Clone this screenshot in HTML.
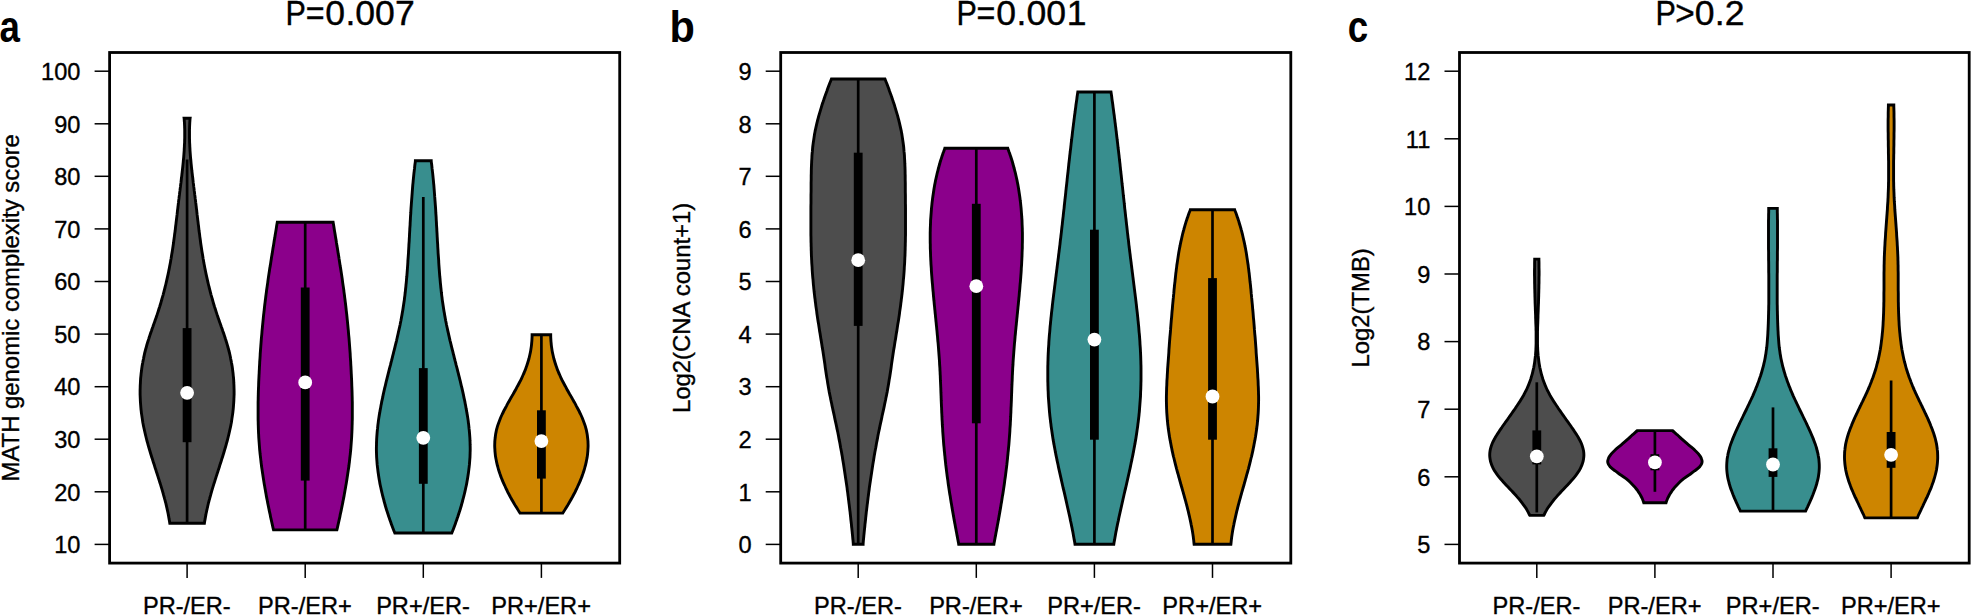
<!DOCTYPE html>
<html><head><meta charset="utf-8"><title>Violin plots</title>
<style>html,body{margin:0;padding:0;background:#fff}svg{display:block}</style></head>
<body>
<svg width="1971" height="615" viewBox="0 0 1971 615">
<rect width="1971" height="615" fill="#fff"/>
<g>
<path d="M190.1 118.2C190.0 118.9 189.9 120.9 189.8 122.2C189.7 123.5 189.7 124.9 189.6 126.2C189.6 127.6 189.5 128.9 189.5 130.2C189.5 131.6 189.5 132.9 189.5 134.2C189.5 135.6 189.5 136.9 189.5 138.2C189.6 139.6 189.6 140.9 189.6 142.3C189.7 143.6 189.8 144.9 189.8 146.3C189.9 147.6 190.0 148.9 190.0 150.3C190.1 151.6 190.2 153.0 190.3 154.3C190.4 155.6 190.5 157.0 190.6 158.3C190.8 159.6 190.9 161.0 191.0 162.3C191.1 163.6 191.3 165.0 191.4 166.3C191.5 167.7 191.7 169.0 191.8 170.3C192.0 171.7 192.1 173.0 192.3 174.3C192.4 175.7 192.6 177.0 192.8 178.3C192.9 179.7 193.1 181.0 193.2 182.4C193.4 183.7 193.6 185.0 193.7 186.4C193.9 187.7 194.1 189.0 194.2 190.4C194.4 191.7 194.6 193.1 194.7 194.4C194.9 195.7 195.1 197.1 195.2 198.4C195.4 199.7 195.6 201.1 195.7 202.4C195.9 203.7 196.0 205.1 196.2 206.4C196.3 207.8 196.5 209.1 196.7 210.4C196.8 211.8 197.0 213.1 197.1 214.4C197.3 215.8 197.4 217.1 197.6 218.4C197.7 219.8 197.9 221.1 198.1 222.5C198.2 223.8 198.4 225.1 198.6 226.5C198.7 227.8 198.9 229.1 199.0 230.5C199.2 231.8 199.4 233.2 199.6 234.5C199.7 235.8 199.9 237.2 200.1 238.5C200.3 239.8 200.5 241.2 200.6 242.5C200.8 243.8 201.0 245.2 201.2 246.5C201.4 247.9 201.6 249.2 201.8 250.5C202.0 251.9 202.2 253.2 202.5 254.5C202.7 255.9 202.9 257.2 203.1 258.5C203.4 259.9 203.6 261.2 203.8 262.6C204.1 263.9 204.3 265.2 204.6 266.6C204.8 267.9 205.1 269.2 205.4 270.6C205.6 271.9 205.9 273.2 206.2 274.6C206.5 275.9 206.8 277.3 207.1 278.6C207.4 279.9 207.7 281.3 208.0 282.6C208.3 283.9 208.6 285.3 209.0 286.6C209.3 288.0 209.6 289.3 210.0 290.6C210.3 292.0 210.7 293.3 211.0 294.6C211.4 296.0 211.8 297.3 212.2 298.6C212.5 300.0 212.9 301.3 213.3 302.7C213.7 304.0 214.1 305.3 214.5 306.7C215.0 308.0 215.4 309.3 215.8 310.7C216.2 312.0 216.7 313.3 217.1 314.7C217.6 316.0 218.0 317.4 218.5 318.7C219.0 320.0 219.4 321.4 219.9 322.7C220.4 324.0 220.9 325.4 221.3 326.7C221.8 328.1 222.3 329.4 222.7 330.7C223.2 332.1 223.6 333.4 224.1 334.7C224.5 336.1 225.0 337.4 225.4 338.7C225.9 340.1 226.3 341.4 226.7 342.8C227.1 344.1 227.5 345.4 227.8 346.8C228.2 348.1 228.6 349.4 228.9 350.8C229.3 352.1 229.6 353.4 229.9 354.8C230.2 356.1 230.5 357.5 230.7 358.8C231.0 360.1 231.3 361.5 231.5 362.8C231.8 364.1 232.0 365.5 232.2 366.8C232.4 368.2 232.6 369.5 232.7 370.8C232.9 372.2 233.1 373.5 233.2 374.8C233.3 376.2 233.5 377.5 233.6 378.8C233.7 380.2 233.8 381.5 233.8 382.9C233.9 384.2 234.0 385.5 234.0 386.9C234.0 388.2 234.1 389.5 234.1 390.9C234.1 392.2 234.1 393.5 234.1 394.9C234.0 396.2 234.0 397.6 233.9 398.9C233.9 400.2 233.8 401.6 233.7 402.9C233.6 404.2 233.5 405.6 233.4 406.9C233.3 408.2 233.2 409.6 233.0 410.9C232.9 412.3 232.7 413.6 232.5 414.9C232.3 416.3 232.1 417.6 231.9 418.9C231.7 420.3 231.5 421.6 231.3 423.0C231.0 424.3 230.8 425.6 230.5 427.0C230.2 428.3 229.9 429.6 229.6 431.0C229.3 432.3 229.0 433.6 228.7 435.0C228.4 436.3 228.0 437.7 227.7 439.0C227.4 440.3 227.0 441.7 226.6 443.0C226.3 444.3 225.9 445.7 225.5 447.0C225.1 448.3 224.7 449.7 224.3 451.0C223.9 452.4 223.5 453.7 223.1 455.0C222.7 456.4 222.3 457.7 221.8 459.0C221.4 460.4 221.0 461.7 220.6 463.1C220.1 464.4 219.7 465.7 219.3 467.1C218.9 468.4 218.4 469.7 218.0 471.1C217.6 472.4 217.1 473.7 216.7 475.1C216.3 476.4 215.8 477.8 215.4 479.1C215.0 480.4 214.6 481.8 214.2 483.1C213.7 484.4 213.3 485.8 212.9 487.1C212.5 488.4 212.1 489.8 211.7 491.1C211.3 492.5 210.9 493.8 210.6 495.1C210.2 496.5 209.8 497.8 209.5 499.1C209.1 500.5 208.8 501.8 208.4 503.2C208.1 504.5 207.8 505.8 207.5 507.2C207.2 508.5 206.9 509.8 206.6 511.2C206.3 512.5 206.0 513.8 205.8 515.2C205.5 516.5 205.3 517.9 205.1 519.2C204.8 520.5 204.5 522.5 204.4 523.2L169.8 523.2C169.7 522.5 169.4 520.5 169.1 519.2C168.9 517.9 168.7 516.5 168.4 515.2C168.2 513.8 167.9 512.5 167.6 511.2C167.3 509.8 167.0 508.5 166.7 507.2C166.4 505.8 166.1 504.5 165.8 503.2C165.4 501.8 165.1 500.5 164.7 499.1C164.4 497.8 164.0 496.5 163.6 495.1C163.3 493.8 162.9 492.5 162.5 491.1C162.1 489.8 161.7 488.4 161.3 487.1C160.9 485.8 160.5 484.4 160.0 483.1C159.6 481.8 159.2 480.4 158.8 479.1C158.4 477.8 157.9 476.4 157.5 475.1C157.1 473.7 156.6 472.4 156.2 471.1C155.8 469.7 155.3 468.4 154.9 467.1C154.5 465.7 154.1 464.4 153.6 463.1C153.2 461.7 152.8 460.4 152.4 459.0C151.9 457.7 151.5 456.4 151.1 455.0C150.7 453.7 150.3 452.4 149.9 451.0C149.5 449.7 149.1 448.3 148.7 447.0C148.3 445.7 147.9 444.3 147.6 443.0C147.2 441.7 146.8 440.3 146.5 439.0C146.2 437.7 145.8 436.3 145.5 435.0C145.2 433.6 144.9 432.3 144.6 431.0C144.3 429.6 144.0 428.3 143.7 427.0C143.4 425.6 143.2 424.3 142.9 423.0C142.7 421.6 142.5 420.3 142.3 418.9C142.1 417.6 141.9 416.3 141.7 414.9C141.5 413.6 141.3 412.3 141.2 410.9C141.0 409.6 140.9 408.2 140.8 406.9C140.7 405.6 140.6 404.2 140.5 402.9C140.4 401.6 140.3 400.2 140.3 398.9C140.2 397.6 140.2 396.2 140.1 394.9C140.1 393.5 140.1 392.2 140.1 390.9C140.1 389.5 140.2 388.2 140.2 386.9C140.2 385.5 140.3 384.2 140.4 382.9C140.4 381.5 140.5 380.2 140.6 378.8C140.7 377.5 140.9 376.2 141.0 374.8C141.1 373.5 141.3 372.2 141.5 370.8C141.6 369.5 141.8 368.2 142.0 366.8C142.2 365.5 142.4 364.1 142.7 362.8C142.9 361.5 143.2 360.1 143.5 358.8C143.7 357.5 144.0 356.1 144.3 354.8C144.6 353.4 144.9 352.1 145.3 350.8C145.6 349.4 146.0 348.1 146.4 346.8C146.7 345.4 147.1 344.1 147.5 342.8C147.9 341.4 148.3 340.1 148.8 338.7C149.2 337.4 149.7 336.1 150.1 334.7C150.6 333.4 151.0 332.1 151.5 330.7C151.9 329.4 152.4 328.1 152.9 326.7C153.3 325.4 153.8 324.0 154.3 322.7C154.8 321.4 155.2 320.0 155.7 318.7C156.2 317.4 156.6 316.0 157.1 314.7C157.5 313.3 158.0 312.0 158.4 310.7C158.8 309.3 159.2 308.0 159.7 306.7C160.1 305.3 160.5 304.0 160.9 302.7C161.3 301.3 161.7 300.0 162.0 298.6C162.4 297.3 162.8 296.0 163.2 294.6C163.5 293.3 163.9 292.0 164.2 290.6C164.6 289.3 164.9 288.0 165.2 286.6C165.6 285.3 165.9 283.9 166.2 282.6C166.5 281.3 166.8 279.9 167.1 278.6C167.4 277.3 167.7 275.9 168.0 274.6C168.3 273.2 168.6 271.9 168.8 270.6C169.1 269.2 169.4 267.9 169.6 266.6C169.9 265.2 170.1 263.9 170.4 262.6C170.6 261.2 170.8 259.9 171.1 258.5C171.3 257.2 171.5 255.9 171.7 254.5C172.0 253.2 172.2 251.9 172.4 250.5C172.6 249.2 172.8 247.9 173.0 246.5C173.2 245.2 173.4 243.8 173.6 242.5C173.7 241.2 173.9 239.8 174.1 238.5C174.3 237.2 174.5 235.8 174.6 234.5C174.8 233.2 175.0 231.8 175.2 230.5C175.3 229.1 175.5 227.8 175.6 226.5C175.8 225.1 176.0 223.8 176.1 222.5C176.3 221.1 176.5 219.8 176.6 218.4C176.8 217.1 176.9 215.8 177.1 214.4C177.2 213.1 177.4 211.8 177.5 210.4C177.7 209.1 177.9 207.8 178.0 206.4C178.2 205.1 178.3 203.7 178.5 202.4C178.6 201.1 178.8 199.7 179.0 198.4C179.1 197.1 179.3 195.7 179.5 194.4C179.6 193.1 179.8 191.7 180.0 190.4C180.1 189.0 180.3 187.7 180.5 186.4C180.6 185.0 180.8 183.7 181.0 182.4C181.1 181.0 181.3 179.7 181.4 178.3C181.6 177.0 181.8 175.7 181.9 174.3C182.1 173.0 182.2 171.7 182.4 170.3C182.5 169.0 182.7 167.7 182.8 166.3C182.9 165.0 183.1 163.6 183.2 162.3C183.3 161.0 183.4 159.6 183.6 158.3C183.7 157.0 183.8 155.6 183.9 154.3C184.0 153.0 184.1 151.6 184.2 150.3C184.2 148.9 184.3 147.6 184.4 146.3C184.4 144.9 184.5 143.6 184.6 142.3C184.6 140.9 184.6 139.6 184.7 138.2C184.7 136.9 184.7 135.6 184.7 134.2C184.7 132.9 184.7 131.6 184.7 130.2C184.7 128.9 184.6 127.6 184.6 126.2C184.5 124.9 184.5 123.5 184.4 122.2C184.3 120.9 184.2 118.9 184.1 118.2Z" fill="#4d4d4d" stroke="#000" stroke-width="2.9" stroke-linejoin="miter"/>
<line x1="187.1" y1="159.5" x2="187.1" y2="523.5" stroke="#000" stroke-width="2.7"/><rect x="182.7" y="328.1" width="8.8" height="114.1" fill="#000"/><circle cx="187.1" cy="392.8" r="6.9" fill="#fff"/>
<path d="M333.1 222.2C333.2 222.9 333.6 224.9 333.8 226.2C334.0 227.5 334.2 228.9 334.4 230.2C334.6 231.5 334.9 232.9 335.1 234.2C335.3 235.5 335.5 236.9 335.7 238.2C336.0 239.5 336.2 240.8 336.4 242.2C336.6 243.5 336.8 244.8 337.0 246.2C337.3 247.5 337.5 248.8 337.7 250.2C337.9 251.5 338.1 252.8 338.3 254.2C338.6 255.5 338.8 256.8 339.0 258.2C339.2 259.5 339.4 260.8 339.6 262.2C339.8 263.5 340.0 264.8 340.2 266.2C340.5 267.5 340.7 268.8 340.9 270.2C341.1 271.5 341.3 272.8 341.5 274.1C341.7 275.5 341.9 276.8 342.1 278.1C342.3 279.5 342.5 280.8 342.6 282.1C342.8 283.5 343.0 284.8 343.2 286.1C343.4 287.5 343.6 288.8 343.8 290.1C343.9 291.5 344.1 292.8 344.3 294.1C344.5 295.5 344.6 296.8 344.8 298.1C345.0 299.5 345.1 300.8 345.3 302.1C345.5 303.5 345.6 304.8 345.8 306.1C345.9 307.5 346.1 308.8 346.2 310.1C346.4 311.4 346.5 312.8 346.7 314.1C346.8 315.4 347.0 316.8 347.1 318.1C347.2 319.4 347.4 320.8 347.5 322.1C347.6 323.4 347.8 324.8 347.9 326.1C348.0 327.4 348.1 328.8 348.3 330.1C348.4 331.4 348.5 332.8 348.6 334.1C348.7 335.4 348.9 336.8 349.0 338.1C349.1 339.4 349.2 340.8 349.3 342.1C349.4 343.4 349.5 344.7 349.6 346.1C349.7 347.4 349.8 348.7 349.9 350.1C350.0 351.4 350.1 352.7 350.2 354.1C350.2 355.4 350.3 356.7 350.4 358.1C350.5 359.4 350.6 360.7 350.7 362.1C350.7 363.4 350.8 364.7 350.9 366.1C351.0 367.4 351.0 368.7 351.1 370.1C351.2 371.4 351.2 372.7 351.3 374.1C351.4 375.4 351.4 376.7 351.5 378.0C351.6 379.4 351.6 380.7 351.7 382.0C351.7 383.4 351.8 384.7 351.8 386.0C351.9 387.4 351.9 388.7 352.0 390.0C352.0 391.4 352.1 392.7 352.1 394.0C352.1 395.4 352.2 396.7 352.2 398.0C352.2 399.4 352.2 400.7 352.3 402.0C352.3 403.4 352.3 404.7 352.3 406.0C352.3 407.4 352.3 408.7 352.3 410.0C352.3 411.3 352.3 412.7 352.3 414.0C352.3 415.3 352.3 416.7 352.3 418.0C352.3 419.3 352.3 420.7 352.2 422.0C352.2 423.3 352.2 424.7 352.1 426.0C352.1 427.3 352.0 428.7 352.0 430.0C351.9 431.3 351.9 432.7 351.8 434.0C351.7 435.3 351.7 436.7 351.6 438.0C351.5 439.3 351.4 440.7 351.3 442.0C351.2 443.3 351.1 444.6 351.0 446.0C350.9 447.3 350.8 448.6 350.7 450.0C350.5 451.3 350.4 452.6 350.3 454.0C350.1 455.3 350.0 456.6 349.8 458.0C349.7 459.3 349.5 460.6 349.4 462.0C349.2 463.3 349.0 464.6 348.9 466.0C348.7 467.3 348.5 468.6 348.3 470.0C348.1 471.3 347.9 472.6 347.7 474.0C347.5 475.3 347.3 476.6 347.1 478.0C346.9 479.3 346.7 480.6 346.5 481.9C346.3 483.3 346.1 484.6 345.8 485.9C345.6 487.3 345.4 488.6 345.1 489.9C344.9 491.3 344.6 492.6 344.4 493.9C344.2 495.3 343.9 496.6 343.7 497.9C343.4 499.3 343.1 500.6 342.9 501.9C342.6 503.3 342.4 504.6 342.1 505.9C341.8 507.3 341.5 508.6 341.3 509.9C341.0 511.3 340.7 512.6 340.4 513.9C340.1 515.2 339.9 516.6 339.6 517.9C339.3 519.2 339.0 520.6 338.7 521.9C338.4 523.2 338.1 524.6 337.8 525.9C337.5 527.2 337.1 529.2 336.9 529.9L273.5 529.9C273.3 529.2 272.9 527.2 272.6 525.9C272.3 524.6 272.0 523.2 271.7 521.9C271.4 520.6 271.1 519.2 270.8 517.9C270.5 516.6 270.3 515.2 270.0 513.9C269.7 512.6 269.4 511.3 269.1 509.9C268.9 508.6 268.6 507.3 268.3 505.9C268.0 504.6 267.8 503.3 267.5 501.9C267.3 500.6 267.0 499.3 266.7 497.9C266.5 496.6 266.2 495.3 266.0 493.9C265.8 492.6 265.5 491.3 265.3 489.9C265.0 488.6 264.8 487.3 264.6 485.9C264.3 484.6 264.1 483.3 263.9 481.9C263.7 480.6 263.5 479.3 263.3 478.0C263.1 476.6 262.9 475.3 262.7 474.0C262.5 472.6 262.3 471.3 262.1 470.0C261.9 468.6 261.7 467.3 261.5 466.0C261.4 464.6 261.2 463.3 261.0 462.0C260.9 460.6 260.7 459.3 260.6 458.0C260.4 456.6 260.3 455.3 260.1 454.0C260.0 452.6 259.9 451.3 259.7 450.0C259.6 448.6 259.5 447.3 259.4 446.0C259.3 444.6 259.2 443.3 259.1 442.0C259.0 440.7 258.9 439.3 258.8 438.0C258.7 436.7 258.7 435.3 258.6 434.0C258.5 432.7 258.5 431.3 258.4 430.0C258.4 428.7 258.3 427.3 258.3 426.0C258.2 424.7 258.2 423.3 258.2 422.0C258.1 420.7 258.1 419.3 258.1 418.0C258.1 416.7 258.1 415.3 258.1 414.0C258.1 412.7 258.1 411.3 258.1 410.0C258.1 408.7 258.1 407.4 258.1 406.0C258.1 404.7 258.1 403.4 258.1 402.0C258.2 400.7 258.2 399.4 258.2 398.0C258.2 396.7 258.3 395.4 258.3 394.0C258.3 392.7 258.4 391.4 258.4 390.0C258.5 388.7 258.5 387.4 258.6 386.0C258.6 384.7 258.7 383.4 258.7 382.0C258.8 380.7 258.8 379.4 258.9 378.0C259.0 376.7 259.0 375.4 259.1 374.1C259.2 372.7 259.2 371.4 259.3 370.1C259.4 368.7 259.4 367.4 259.5 366.1C259.6 364.7 259.7 363.4 259.7 362.1C259.8 360.7 259.9 359.4 260.0 358.1C260.1 356.7 260.2 355.4 260.2 354.1C260.3 352.7 260.4 351.4 260.5 350.1C260.6 348.7 260.7 347.4 260.8 346.1C260.9 344.7 261.0 343.4 261.1 342.1C261.2 340.8 261.3 339.4 261.4 338.1C261.5 336.8 261.7 335.4 261.8 334.1C261.9 332.8 262.0 331.4 262.1 330.1C262.3 328.8 262.4 327.4 262.5 326.1C262.6 324.8 262.8 323.4 262.9 322.1C263.0 320.8 263.2 319.4 263.3 318.1C263.4 316.8 263.6 315.4 263.7 314.1C263.9 312.8 264.0 311.4 264.2 310.1C264.3 308.8 264.5 307.5 264.6 306.1C264.8 304.8 264.9 303.5 265.1 302.1C265.3 300.8 265.4 299.5 265.6 298.1C265.8 296.8 265.9 295.5 266.1 294.1C266.3 292.8 266.5 291.5 266.6 290.1C266.8 288.8 267.0 287.5 267.2 286.1C267.4 284.8 267.6 283.5 267.8 282.1C267.9 280.8 268.1 279.5 268.3 278.1C268.5 276.8 268.7 275.5 268.9 274.1C269.1 272.8 269.3 271.5 269.5 270.2C269.7 268.8 269.9 267.5 270.2 266.2C270.4 264.8 270.6 263.5 270.8 262.2C271.0 260.8 271.2 259.5 271.4 258.2C271.6 256.8 271.8 255.5 272.1 254.2C272.3 252.8 272.5 251.5 272.7 250.2C272.9 248.8 273.1 247.5 273.4 246.2C273.6 244.8 273.8 243.5 274.0 242.2C274.2 240.8 274.4 239.5 274.7 238.2C274.9 236.9 275.1 235.5 275.3 234.2C275.5 232.9 275.8 231.5 276.0 230.2C276.2 228.9 276.4 227.5 276.6 226.2C276.8 224.9 277.2 222.9 277.3 222.2Z" fill="#8b008b" stroke="#000" stroke-width="2.9" stroke-linejoin="miter"/>
<line x1="305.2" y1="221.9" x2="305.2" y2="530.7" stroke="#000" stroke-width="2.7"/><rect x="300.8" y="287.5" width="8.8" height="193.1" fill="#000"/><circle cx="305.2" cy="382.4" r="6.9" fill="#fff"/>
<path d="M431.2 160.7C431.2 161.4 431.5 163.4 431.7 164.7C431.8 166.0 432.0 167.4 432.1 168.7C432.3 170.0 432.4 171.4 432.6 172.7C432.7 174.0 432.9 175.4 433.0 176.7C433.1 178.0 433.3 179.4 433.4 180.7C433.5 182.1 433.6 183.4 433.8 184.7C433.9 186.1 434.0 187.4 434.1 188.7C434.2 190.1 434.3 191.4 434.4 192.7C434.5 194.1 434.6 195.4 434.7 196.7C434.8 198.1 434.9 199.4 435.0 200.7C435.1 202.1 435.2 203.4 435.3 204.7C435.4 206.1 435.5 207.4 435.6 208.7C435.7 210.1 435.8 211.4 435.8 212.7C435.9 214.1 436.0 215.4 436.1 216.7C436.2 218.1 436.2 219.4 436.3 220.7C436.4 222.1 436.5 223.4 436.5 224.8C436.6 226.1 436.7 227.4 436.8 228.8C436.8 230.1 436.9 231.4 437.0 232.8C437.1 234.1 437.1 235.4 437.2 236.8C437.3 238.1 437.4 239.4 437.4 240.8C437.5 242.1 437.6 243.4 437.7 244.8C437.7 246.1 437.8 247.4 437.9 248.8C438.0 250.1 438.1 251.4 438.1 252.8C438.2 254.1 438.3 255.4 438.4 256.8C438.5 258.1 438.6 259.4 438.7 260.8C438.7 262.1 438.8 263.4 438.9 264.8C439.0 266.1 439.1 267.5 439.2 268.8C439.3 270.1 439.4 271.5 439.5 272.8C439.6 274.1 439.7 275.5 439.8 276.8C440.0 278.1 440.1 279.5 440.2 280.8C440.3 282.1 440.4 283.5 440.6 284.8C440.7 286.1 440.8 287.5 441.0 288.8C441.1 290.1 441.3 291.5 441.4 292.8C441.6 294.1 441.7 295.5 441.9 296.8C442.1 298.1 442.2 299.5 442.4 300.8C442.6 302.1 442.8 303.5 443.0 304.8C443.2 306.2 443.4 307.5 443.6 308.8C443.8 310.2 444.0 311.5 444.3 312.8C444.5 314.2 444.7 315.5 445.0 316.8C445.2 318.2 445.5 319.5 445.7 320.8C446.0 322.2 446.3 323.5 446.5 324.8C446.8 326.2 447.1 327.5 447.4 328.8C447.7 330.2 448.0 331.5 448.3 332.8C448.6 334.2 448.9 335.5 449.2 336.8C449.5 338.2 449.8 339.5 450.1 340.8C450.5 342.2 450.8 343.5 451.1 344.8C451.4 346.2 451.8 347.5 452.1 348.9C452.4 350.2 452.8 351.5 453.1 352.9C453.4 354.2 453.8 355.5 454.1 356.9C454.4 358.2 454.8 359.5 455.1 360.9C455.5 362.2 455.8 363.5 456.1 364.9C456.5 366.2 456.8 367.5 457.2 368.9C457.5 370.2 457.8 371.5 458.2 372.9C458.5 374.2 458.8 375.5 459.2 376.9C459.5 378.2 459.8 379.5 460.2 380.9C460.5 382.2 460.8 383.5 461.1 384.9C461.4 386.2 461.8 387.5 462.1 388.9C462.4 390.2 462.7 391.6 463.0 392.9C463.3 394.2 463.6 395.6 463.8 396.9C464.1 398.2 464.4 399.6 464.7 400.9C465.0 402.2 465.2 403.6 465.5 404.9C465.7 406.2 466.0 407.6 466.2 408.9C466.5 410.2 466.7 411.6 466.9 412.9C467.2 414.2 467.4 415.6 467.6 416.9C467.8 418.2 468.0 419.6 468.2 420.9C468.3 422.2 468.5 423.6 468.7 424.9C468.8 426.2 469.0 427.6 469.1 428.9C469.3 430.3 469.4 431.6 469.5 432.9C469.6 434.3 469.7 435.6 469.8 436.9C469.9 438.3 470.0 439.6 470.0 440.9C470.1 442.3 470.1 443.6 470.1 444.9C470.2 446.3 470.2 447.6 470.2 448.9C470.2 450.3 470.2 451.6 470.1 452.9C470.1 454.3 470.0 455.6 470.0 456.9C469.9 458.3 469.8 459.6 469.7 460.9C469.6 462.3 469.5 463.6 469.4 464.9C469.2 466.3 469.1 467.6 468.9 468.9C468.8 470.3 468.6 471.6 468.4 473.0C468.2 474.3 468.0 475.6 467.8 477.0C467.6 478.3 467.4 479.6 467.1 481.0C466.9 482.3 466.7 483.6 466.4 485.0C466.1 486.3 465.8 487.6 465.5 489.0C465.3 490.3 464.9 491.6 464.6 493.0C464.3 494.3 464.0 495.6 463.6 497.0C463.3 498.3 462.9 499.6 462.6 501.0C462.2 502.3 461.8 503.6 461.5 505.0C461.1 506.3 460.7 507.6 460.3 509.0C459.9 510.3 459.4 511.6 459.0 513.0C458.6 514.3 458.1 515.7 457.7 517.0C457.2 518.3 456.8 519.7 456.3 521.0C455.8 522.3 455.4 523.7 454.9 525.0C454.4 526.3 453.9 527.7 453.4 529.0C452.9 530.3 452.1 532.3 451.8 533.0L394.8 533.0C394.5 532.3 393.7 530.3 393.2 529.0C392.7 527.7 392.2 526.3 391.7 525.0C391.2 523.7 390.8 522.3 390.3 521.0C389.8 519.7 389.4 518.3 388.9 517.0C388.5 515.7 388.0 514.3 387.6 513.0C387.2 511.6 386.7 510.3 386.3 509.0C385.9 507.6 385.5 506.3 385.1 505.0C384.8 503.6 384.4 502.3 384.0 501.0C383.7 499.6 383.3 498.3 383.0 497.0C382.6 495.6 382.3 494.3 382.0 493.0C381.7 491.6 381.3 490.3 381.1 489.0C380.8 487.6 380.5 486.3 380.2 485.0C379.9 483.6 379.7 482.3 379.5 481.0C379.2 479.6 379.0 478.3 378.8 477.0C378.6 475.6 378.4 474.3 378.2 473.0C378.0 471.6 377.8 470.3 377.7 468.9C377.5 467.6 377.4 466.3 377.2 464.9C377.1 463.6 377.0 462.3 376.9 460.9C376.8 459.6 376.7 458.3 376.6 456.9C376.6 455.6 376.5 454.3 376.5 452.9C376.4 451.6 376.4 450.3 376.4 448.9C376.4 447.6 376.4 446.3 376.5 444.9C376.5 443.6 376.5 442.3 376.6 440.9C376.6 439.6 376.7 438.3 376.8 436.9C376.9 435.6 377.0 434.3 377.1 432.9C377.2 431.6 377.3 430.3 377.5 428.9C377.6 427.6 377.8 426.2 377.9 424.9C378.1 423.6 378.3 422.2 378.4 420.9C378.6 419.6 378.8 418.2 379.0 416.9C379.2 415.6 379.4 414.2 379.7 412.9C379.9 411.6 380.1 410.2 380.4 408.9C380.6 407.6 380.9 406.2 381.1 404.9C381.4 403.6 381.6 402.2 381.9 400.9C382.2 399.6 382.5 398.2 382.8 396.9C383.0 395.6 383.3 394.2 383.6 392.9C383.9 391.6 384.2 390.2 384.5 388.9C384.8 387.5 385.2 386.2 385.5 384.9C385.8 383.5 386.1 382.2 386.4 380.9C386.8 379.5 387.1 378.2 387.4 376.9C387.8 375.5 388.1 374.2 388.4 372.9C388.8 371.5 389.1 370.2 389.4 368.9C389.8 367.5 390.1 366.2 390.5 364.9C390.8 363.5 391.1 362.2 391.5 360.9C391.8 359.5 392.2 358.2 392.5 356.9C392.8 355.5 393.2 354.2 393.5 352.9C393.8 351.5 394.2 350.2 394.5 348.9C394.8 347.5 395.2 346.2 395.5 344.8C395.8 343.5 396.1 342.2 396.5 340.8C396.8 339.5 397.1 338.2 397.4 336.8C397.7 335.5 398.0 334.2 398.3 332.8C398.6 331.5 398.9 330.2 399.2 328.8C399.5 327.5 399.8 326.2 400.1 324.8C400.3 323.5 400.6 322.2 400.9 320.8C401.1 319.5 401.4 318.2 401.6 316.8C401.9 315.5 402.1 314.2 402.3 312.8C402.6 311.5 402.8 310.2 403.0 308.8C403.2 307.5 403.4 306.2 403.6 304.8C403.8 303.5 404.0 302.1 404.2 300.8C404.4 299.5 404.5 298.1 404.7 296.8C404.9 295.5 405.0 294.1 405.2 292.8C405.3 291.5 405.5 290.1 405.6 288.8C405.8 287.5 405.9 286.1 406.0 284.8C406.2 283.5 406.3 282.1 406.4 280.8C406.5 279.5 406.6 278.1 406.8 276.8C406.9 275.5 407.0 274.1 407.1 272.8C407.2 271.5 407.3 270.1 407.4 268.8C407.5 267.5 407.6 266.1 407.7 264.8C407.8 263.4 407.9 262.1 407.9 260.8C408.0 259.4 408.1 258.1 408.2 256.8C408.3 255.4 408.4 254.1 408.5 252.8C408.5 251.4 408.6 250.1 408.7 248.8C408.8 247.4 408.9 246.1 408.9 244.8C409.0 243.4 409.1 242.1 409.2 240.8C409.2 239.4 409.3 238.1 409.4 236.8C409.5 235.4 409.5 234.1 409.6 232.8C409.7 231.4 409.8 230.1 409.8 228.8C409.9 227.4 410.0 226.1 410.1 224.8C410.1 223.4 410.2 222.1 410.3 220.7C410.4 219.4 410.4 218.1 410.5 216.7C410.6 215.4 410.7 214.1 410.8 212.7C410.8 211.4 410.9 210.1 411.0 208.7C411.1 207.4 411.2 206.1 411.3 204.7C411.4 203.4 411.5 202.1 411.6 200.7C411.7 199.4 411.8 198.1 411.9 196.7C412.0 195.4 412.1 194.1 412.2 192.7C412.3 191.4 412.4 190.1 412.5 188.7C412.6 187.4 412.7 186.1 412.8 184.7C413.0 183.4 413.1 182.1 413.2 180.7C413.3 179.4 413.5 178.0 413.6 176.7C413.7 175.4 413.9 174.0 414.0 172.7C414.2 171.4 414.3 170.0 414.5 168.7C414.6 167.4 414.8 166.0 414.9 164.7C415.1 163.4 415.4 161.4 415.4 160.7Z" fill="#388e8e" stroke="#000" stroke-width="2.9" stroke-linejoin="miter"/>
<line x1="423.3" y1="196.9" x2="423.3" y2="533.3" stroke="#000" stroke-width="2.7"/><rect x="418.9" y="368.1" width="8.8" height="115.7" fill="#000"/><circle cx="423.3" cy="437.8" r="6.9" fill="#fff"/>
<path d="M550.7 334.7C550.7 335.4 550.7 337.3 550.8 338.7C550.9 340.0 550.9 341.3 551.1 342.6C551.2 344.0 551.3 345.3 551.5 346.6C551.7 347.9 551.9 349.2 552.1 350.6C552.3 351.9 552.6 353.2 552.9 354.5C553.2 355.8 553.5 357.2 553.8 358.5C554.2 359.8 554.6 361.1 555.0 362.5C555.4 363.8 555.8 365.1 556.3 366.4C556.7 367.7 557.2 369.1 557.7 370.4C558.3 371.7 558.8 373.0 559.4 374.3C560.0 375.7 560.6 377.0 561.2 378.3C561.8 379.6 562.5 381.0 563.2 382.3C563.9 383.6 564.6 384.9 565.3 386.2C566.0 387.6 566.8 388.9 567.5 390.2C568.2 391.5 569.0 392.8 569.7 394.2C570.5 395.5 571.2 396.8 572.0 398.1C572.7 399.5 573.5 400.8 574.2 402.1C575.0 403.4 575.7 404.7 576.4 406.1C577.1 407.4 577.8 408.7 578.5 410.0C579.2 411.3 579.8 412.7 580.5 414.0C581.1 415.3 581.7 416.6 582.3 418.0C582.8 419.3 583.3 420.6 583.8 421.9C584.3 423.2 584.8 424.6 585.2 425.9C585.6 427.2 585.9 428.5 586.3 429.8C586.6 431.2 586.8 432.5 587.1 433.8C587.3 435.1 587.5 436.5 587.6 437.8C587.8 439.1 587.9 440.4 588.0 441.7C588.0 443.1 588.1 444.4 588.1 445.7C588.1 447.0 588.0 448.3 587.9 449.7C587.9 451.0 587.7 452.3 587.6 453.6C587.5 455.0 587.3 456.3 587.1 457.6C586.8 458.9 586.6 460.2 586.3 461.6C586.0 462.9 585.7 464.2 585.4 465.5C585.0 466.8 584.7 468.2 584.3 469.5C583.9 470.8 583.5 472.1 583.0 473.5C582.5 474.8 582.1 476.1 581.6 477.4C581.1 478.7 580.5 480.1 580.0 481.4C579.4 482.7 578.8 484.0 578.2 485.3C577.6 486.7 577.0 488.0 576.4 489.3C575.7 490.6 575.1 492.0 574.4 493.3C573.7 494.6 573.0 495.9 572.3 497.2C571.5 498.6 570.8 499.9 570.0 501.2C569.3 502.5 568.5 503.8 567.7 505.2C566.9 506.5 566.1 507.8 565.3 509.1C564.5 510.5 563.2 512.4 562.8 513.1L520.0 513.1C519.6 512.4 518.3 510.5 517.5 509.1C516.7 507.8 515.9 506.5 515.1 505.2C514.3 503.8 513.5 502.5 512.8 501.2C512.0 499.9 511.3 498.6 510.5 497.2C509.8 495.9 509.1 494.6 508.4 493.3C507.7 492.0 507.1 490.6 506.4 489.3C505.8 488.0 505.2 486.7 504.6 485.3C504.0 484.0 503.4 482.7 502.8 481.4C502.3 480.1 501.7 478.7 501.2 477.4C500.7 476.1 500.3 474.8 499.8 473.5C499.3 472.1 498.9 470.8 498.5 469.5C498.1 468.2 497.8 466.8 497.4 465.5C497.1 464.2 496.8 462.9 496.5 461.6C496.2 460.2 496.0 458.9 495.7 457.6C495.5 456.3 495.3 455.0 495.2 453.6C495.1 452.3 494.9 451.0 494.9 449.7C494.8 448.3 494.7 447.0 494.7 445.7C494.7 444.4 494.8 443.1 494.8 441.7C494.9 440.4 495.0 439.1 495.2 437.8C495.3 436.5 495.5 435.1 495.7 433.8C496.0 432.5 496.2 431.2 496.5 429.8C496.9 428.5 497.2 427.2 497.6 425.9C498.0 424.6 498.5 423.2 499.0 421.9C499.5 420.6 500.0 419.3 500.5 418.0C501.1 416.6 501.7 415.3 502.3 414.0C503.0 412.7 503.6 411.3 504.3 410.0C505.0 408.7 505.7 407.4 506.4 406.1C507.1 404.7 507.8 403.4 508.6 402.1C509.3 400.8 510.1 399.5 510.8 398.1C511.6 396.8 512.3 395.5 513.1 394.2C513.8 392.8 514.6 391.5 515.3 390.2C516.0 388.9 516.8 387.6 517.5 386.2C518.2 384.9 518.9 383.6 519.6 382.3C520.3 381.0 521.0 379.6 521.6 378.3C522.2 377.0 522.8 375.7 523.4 374.3C524.0 373.0 524.5 371.7 525.1 370.4C525.6 369.1 526.1 367.7 526.5 366.4C527.0 365.1 527.4 363.8 527.8 362.5C528.2 361.1 528.6 359.8 529.0 358.5C529.3 357.2 529.6 355.8 529.9 354.5C530.2 353.2 530.5 351.9 530.7 350.6C530.9 349.2 531.1 347.9 531.3 346.6C531.5 345.3 531.6 344.0 531.7 342.6C531.9 341.3 531.9 340.0 532.0 338.7C532.1 337.3 532.1 335.4 532.1 334.7Z" fill="#cd8500" stroke="#000" stroke-width="2.9" stroke-linejoin="miter"/>
<line x1="541.4" y1="334.1" x2="541.4" y2="513.1" stroke="#000" stroke-width="2.7"/><rect x="537.0" y="410.3" width="8.8" height="68.3" fill="#000"/><circle cx="541.4" cy="441.1" r="6.9" fill="#fff"/>
<rect x="109.6" y="52.5" width="510.1" height="510.6" fill="none" stroke="#000" stroke-width="2.8"/>
<line x1="94.6" y1="544.4" x2="109.6" y2="544.4" stroke="#000" stroke-width="1.5"/>
<text transform="translate(80.4 553.1) scale(1.000 1)" font-family="Liberation Sans, Arial, Helvetica, sans-serif" font-size="23.6" text-anchor="end" fill="#000" stroke="#000" stroke-width="0.35">10</text>
<line x1="94.6" y1="491.8" x2="109.6" y2="491.8" stroke="#000" stroke-width="1.5"/>
<text transform="translate(80.4 500.5) scale(1.000 1)" font-family="Liberation Sans, Arial, Helvetica, sans-serif" font-size="23.6" text-anchor="end" fill="#000" stroke="#000" stroke-width="0.35">20</text>
<line x1="94.6" y1="439.2" x2="109.6" y2="439.2" stroke="#000" stroke-width="1.5"/>
<text transform="translate(80.4 447.9) scale(1.000 1)" font-family="Liberation Sans, Arial, Helvetica, sans-serif" font-size="23.6" text-anchor="end" fill="#000" stroke="#000" stroke-width="0.35">30</text>
<line x1="94.6" y1="386.7" x2="109.6" y2="386.7" stroke="#000" stroke-width="1.5"/>
<text transform="translate(80.4 395.4) scale(1.000 1)" font-family="Liberation Sans, Arial, Helvetica, sans-serif" font-size="23.6" text-anchor="end" fill="#000" stroke="#000" stroke-width="0.35">40</text>
<line x1="94.6" y1="334.1" x2="109.6" y2="334.1" stroke="#000" stroke-width="1.5"/>
<text transform="translate(80.4 342.8) scale(1.000 1)" font-family="Liberation Sans, Arial, Helvetica, sans-serif" font-size="23.6" text-anchor="end" fill="#000" stroke="#000" stroke-width="0.35">50</text>
<line x1="94.6" y1="281.5" x2="109.6" y2="281.5" stroke="#000" stroke-width="1.5"/>
<text transform="translate(80.4 290.2) scale(1.000 1)" font-family="Liberation Sans, Arial, Helvetica, sans-serif" font-size="23.6" text-anchor="end" fill="#000" stroke="#000" stroke-width="0.35">60</text>
<line x1="94.6" y1="228.9" x2="109.6" y2="228.9" stroke="#000" stroke-width="1.5"/>
<text transform="translate(80.4 237.6) scale(1.000 1)" font-family="Liberation Sans, Arial, Helvetica, sans-serif" font-size="23.6" text-anchor="end" fill="#000" stroke="#000" stroke-width="0.35">70</text>
<line x1="94.6" y1="176.3" x2="109.6" y2="176.3" stroke="#000" stroke-width="1.5"/>
<text transform="translate(80.4 185.0) scale(1.000 1)" font-family="Liberation Sans, Arial, Helvetica, sans-serif" font-size="23.6" text-anchor="end" fill="#000" stroke="#000" stroke-width="0.35">80</text>
<line x1="94.6" y1="123.8" x2="109.6" y2="123.8" stroke="#000" stroke-width="1.5"/>
<text transform="translate(80.4 132.5) scale(1.000 1)" font-family="Liberation Sans, Arial, Helvetica, sans-serif" font-size="23.6" text-anchor="end" fill="#000" stroke="#000" stroke-width="0.35">90</text>
<line x1="94.6" y1="71.2" x2="109.6" y2="71.2" stroke="#000" stroke-width="1.5"/>
<text transform="translate(80.4 79.9) scale(1.000 1)" font-family="Liberation Sans, Arial, Helvetica, sans-serif" font-size="23.6" text-anchor="end" fill="#000" stroke="#000" stroke-width="0.35">100</text>
<line x1="187.1" y1="563.1" x2="187.1" y2="577.9" stroke="#000" stroke-width="1.5"/>
<text transform="translate(186.8 614.1) scale(1.000 1)" font-family="Liberation Sans, Arial, Helvetica, sans-serif" font-size="23.6" text-anchor="middle" fill="#000" stroke="#000" stroke-width="0.35">PR-/ER-</text>
<line x1="305.2" y1="563.1" x2="305.2" y2="577.9" stroke="#000" stroke-width="1.5"/>
<text transform="translate(304.9 614.1) scale(1.000 1)" font-family="Liberation Sans, Arial, Helvetica, sans-serif" font-size="23.6" text-anchor="middle" fill="#000" stroke="#000" stroke-width="0.35">PR-/ER+</text>
<line x1="423.3" y1="563.1" x2="423.3" y2="577.9" stroke="#000" stroke-width="1.5"/>
<text transform="translate(423.0 614.1) scale(1.000 1)" font-family="Liberation Sans, Arial, Helvetica, sans-serif" font-size="23.6" text-anchor="middle" fill="#000" stroke="#000" stroke-width="0.35">PR+/ER-</text>
<line x1="541.4" y1="563.1" x2="541.4" y2="577.9" stroke="#000" stroke-width="1.5"/>
<text transform="translate(541.1 614.1) scale(1.000 1)" font-family="Liberation Sans, Arial, Helvetica, sans-serif" font-size="23.6" text-anchor="middle" fill="#000" stroke="#000" stroke-width="0.35">PR+/ER+</text>
<text transform="translate(18.8 307.9) rotate(-90) scale(1.012 1)" font-family="Liberation Sans, Arial, Helvetica, sans-serif" font-size="23.6" text-anchor="middle" fill="#000" stroke="#000" stroke-width="0.35">MATH genomic complexity score</text>
<text y="25.4" font-family="Liberation Sans, Arial, Helvetica, sans-serif" font-size="35.6" fill="#000" stroke="#000" stroke-width="0.4"><tspan x="285.4" textLength="20.35" lengthAdjust="spacingAndGlyphs">P</tspan><tspan x="305.8" textLength="18.86" lengthAdjust="spacingAndGlyphs">=</tspan><tspan x="325.2 345.5 355.3 375.1 394.9">0.007</tspan></text>
<text transform="translate(-0.6 42.3) scale(0.840 1)" font-family="Liberation Sans, Arial, Helvetica, sans-serif" font-size="43.7" text-anchor="start" fill="#000" font-weight="bold">a</text>
</g>
<g>
<path d="M885.0 79.0C885.3 79.7 886.0 81.7 886.6 83.0C887.1 84.3 887.6 85.7 888.1 87.0C888.6 88.4 889.1 89.7 889.5 91.0C890.0 92.4 890.5 93.7 891.0 95.0C891.5 96.4 891.9 97.7 892.4 99.1C892.8 100.4 893.3 101.7 893.7 103.1C894.2 104.4 894.6 105.7 895.0 107.1C895.4 108.4 895.8 109.7 896.2 111.1C896.6 112.4 897.0 113.8 897.4 115.1C897.8 116.4 898.1 117.8 898.5 119.1C898.8 120.4 899.2 121.8 899.5 123.1C899.8 124.5 900.1 125.8 900.4 127.1C900.7 128.5 901.0 129.8 901.3 131.1C901.5 132.5 901.8 133.8 902.0 135.1C902.2 136.5 902.4 137.8 902.6 139.2C902.8 140.5 903.0 141.8 903.2 143.2C903.4 144.5 903.5 145.8 903.7 147.2C903.8 148.5 903.9 149.8 904.0 151.2C904.2 152.5 904.3 153.9 904.4 155.2C904.5 156.5 904.5 157.9 904.6 159.2C904.7 160.5 904.8 161.9 904.8 163.2C904.9 164.6 904.9 165.9 905.0 167.2C905.0 168.6 905.1 169.9 905.1 171.2C905.1 172.6 905.1 173.9 905.2 175.2C905.2 176.6 905.2 177.9 905.2 179.3C905.2 180.6 905.3 181.9 905.3 183.3C905.3 184.6 905.3 185.9 905.3 187.3C905.3 188.6 905.3 190.0 905.3 191.3C905.3 192.6 905.4 194.0 905.4 195.3C905.4 196.6 905.4 198.0 905.4 199.3C905.4 200.6 905.4 202.0 905.4 203.3C905.5 204.7 905.5 206.0 905.5 207.3C905.5 208.7 905.5 210.0 905.5 211.3C905.5 212.7 905.5 214.0 905.5 215.4C905.5 216.7 905.5 218.0 905.5 219.4C905.5 220.7 905.5 222.0 905.5 223.4C905.5 224.7 905.5 226.0 905.5 227.4C905.5 228.7 905.5 230.1 905.5 231.4C905.5 232.7 905.5 234.1 905.5 235.4C905.4 236.7 905.4 238.1 905.4 239.4C905.4 240.8 905.4 242.1 905.3 243.4C905.3 244.8 905.3 246.1 905.2 247.4C905.2 248.8 905.2 250.1 905.1 251.4C905.1 252.8 905.0 254.1 905.0 255.5C904.9 256.8 904.8 258.1 904.8 259.5C904.7 260.8 904.7 262.1 904.6 263.5C904.5 264.8 904.4 266.1 904.3 267.5C904.3 268.8 904.2 270.2 904.1 271.5C904.0 272.8 903.9 274.2 903.8 275.5C903.7 276.8 903.6 278.2 903.4 279.5C903.3 280.9 903.2 282.2 903.1 283.5C903.0 284.9 902.8 286.2 902.7 287.5C902.6 288.9 902.4 290.2 902.3 291.5C902.1 292.9 902.0 294.2 901.8 295.6C901.7 296.9 901.5 298.2 901.3 299.6C901.2 300.9 901.0 302.2 900.8 303.6C900.7 304.9 900.5 306.3 900.3 307.6C900.1 308.9 899.9 310.3 899.7 311.6C899.6 312.9 899.4 314.3 899.2 315.6C899.0 316.9 898.8 318.3 898.6 319.6C898.4 321.0 898.2 322.3 897.9 323.6C897.7 325.0 897.5 326.3 897.3 327.6C897.1 329.0 896.9 330.3 896.7 331.7C896.4 333.0 896.2 334.3 896.0 335.7C895.8 337.0 895.6 338.3 895.4 339.7C895.1 341.0 894.9 342.3 894.7 343.7C894.5 345.0 894.3 346.4 894.1 347.7C893.8 349.0 893.6 350.4 893.4 351.7C893.2 353.0 893.0 354.4 892.8 355.7C892.6 357.1 892.4 358.4 892.2 359.7C892.0 361.1 891.8 362.4 891.6 363.7C891.4 365.1 891.3 366.4 891.1 367.7C890.9 369.1 890.7 370.4 890.5 371.8C890.3 373.1 890.1 374.4 889.9 375.8C889.7 377.1 889.5 378.4 889.2 379.8C889.0 381.1 888.8 382.4 888.6 383.8C888.4 385.1 888.1 386.5 887.9 387.8C887.7 389.1 887.4 390.5 887.2 391.8C886.9 393.1 886.7 394.5 886.4 395.8C886.1 397.2 885.8 398.5 885.6 399.8C885.3 401.2 885.0 402.5 884.7 403.8C884.5 405.2 884.2 406.5 883.9 407.8C883.6 409.2 883.3 410.5 883.0 411.9C882.7 413.2 882.4 414.5 882.1 415.9C881.9 417.2 881.6 418.5 881.3 419.9C881.0 421.2 880.7 422.6 880.4 423.9C880.1 425.2 879.8 426.6 879.6 427.9C879.3 429.2 879.0 430.6 878.7 431.9C878.5 433.2 878.2 434.6 877.9 435.9C877.7 437.3 877.4 438.6 877.2 439.9C876.9 441.3 876.6 442.6 876.4 443.9C876.2 445.3 875.9 446.6 875.7 448.0C875.4 449.3 875.2 450.6 874.9 452.0C874.7 453.3 874.5 454.6 874.2 456.0C874.0 457.3 873.8 458.6 873.6 460.0C873.4 461.3 873.1 462.7 872.9 464.0C872.7 465.3 872.5 466.7 872.3 468.0C872.1 469.3 871.9 470.7 871.7 472.0C871.5 473.4 871.3 474.7 871.1 476.0C870.9 477.4 870.7 478.7 870.5 480.0C870.3 481.4 870.1 482.7 869.9 484.0C869.7 485.4 869.5 486.7 869.3 488.1C869.2 489.4 869.0 490.7 868.8 492.1C868.6 493.4 868.5 494.7 868.3 496.1C868.1 497.4 868.0 498.7 867.8 500.1C867.6 501.4 867.5 502.8 867.3 504.1C867.1 505.4 867.0 506.8 866.8 508.1C866.7 509.4 866.5 510.8 866.3 512.1C866.2 513.5 866.0 514.8 865.9 516.1C865.7 517.5 865.6 518.8 865.5 520.1C865.3 521.5 865.2 522.8 865.0 524.1C864.9 525.5 864.8 526.8 864.6 528.2C864.5 529.5 864.3 530.8 864.2 532.2C864.1 533.5 863.9 534.8 863.8 536.2C863.7 537.5 863.6 538.9 863.4 540.2C863.3 541.5 863.1 543.5 863.1 544.2L853.3 544.2C853.3 543.5 853.1 541.5 853.0 540.2C852.8 538.9 852.7 537.5 852.6 536.2C852.5 534.8 852.3 533.5 852.2 532.2C852.1 530.8 851.9 529.5 851.8 528.2C851.6 526.8 851.5 525.5 851.4 524.1C851.2 522.8 851.1 521.5 850.9 520.1C850.8 518.8 850.7 517.5 850.5 516.1C850.4 514.8 850.2 513.5 850.1 512.1C849.9 510.8 849.7 509.4 849.6 508.1C849.4 506.8 849.3 505.4 849.1 504.1C848.9 502.8 848.8 501.4 848.6 500.1C848.4 498.7 848.3 497.4 848.1 496.1C847.9 494.7 847.8 493.4 847.6 492.1C847.4 490.7 847.2 489.4 847.1 488.1C846.9 486.7 846.7 485.4 846.5 484.0C846.3 482.7 846.1 481.4 845.9 480.0C845.7 478.7 845.5 477.4 845.3 476.0C845.1 474.7 844.9 473.4 844.7 472.0C844.5 470.7 844.3 469.3 844.1 468.0C843.9 466.7 843.7 465.3 843.5 464.0C843.3 462.7 843.0 461.3 842.8 460.0C842.6 458.6 842.4 457.3 842.2 456.0C841.9 454.6 841.7 453.3 841.5 452.0C841.2 450.6 841.0 449.3 840.7 448.0C840.5 446.6 840.2 445.3 840.0 443.9C839.8 442.6 839.5 441.3 839.2 439.9C839.0 438.6 838.7 437.3 838.5 435.9C838.2 434.6 837.9 433.2 837.7 431.9C837.4 430.6 837.1 429.2 836.8 427.9C836.6 426.6 836.3 425.2 836.0 423.9C835.7 422.6 835.4 421.2 835.1 419.9C834.8 418.5 834.5 417.2 834.3 415.9C834.0 414.5 833.7 413.2 833.4 411.9C833.1 410.5 832.8 409.2 832.5 407.8C832.2 406.5 831.9 405.2 831.7 403.8C831.4 402.5 831.1 401.2 830.8 399.8C830.6 398.5 830.3 397.2 830.0 395.8C829.7 394.5 829.5 393.1 829.2 391.8C829.0 390.5 828.7 389.1 828.5 387.8C828.3 386.5 828.0 385.1 827.8 383.8C827.6 382.4 827.4 381.1 827.2 379.8C826.9 378.4 826.7 377.1 826.5 375.8C826.3 374.4 826.1 373.1 825.9 371.8C825.7 370.4 825.5 369.1 825.3 367.7C825.1 366.4 825.0 365.1 824.8 363.7C824.6 362.4 824.4 361.1 824.2 359.7C824.0 358.4 823.8 357.1 823.6 355.7C823.4 354.4 823.2 353.0 823.0 351.7C822.8 350.4 822.6 349.0 822.3 347.7C822.1 346.4 821.9 345.0 821.7 343.7C821.5 342.3 821.3 341.0 821.0 339.7C820.8 338.3 820.6 337.0 820.4 335.7C820.2 334.3 820.0 333.0 819.7 331.7C819.5 330.3 819.3 329.0 819.1 327.6C818.9 326.3 818.7 325.0 818.5 323.6C818.2 322.3 818.0 321.0 817.8 319.6C817.6 318.3 817.4 316.9 817.2 315.6C817.0 314.3 816.8 312.9 816.7 311.6C816.5 310.3 816.3 308.9 816.1 307.6C815.9 306.3 815.7 304.9 815.6 303.6C815.4 302.2 815.2 300.9 815.1 299.6C814.9 298.2 814.7 296.9 814.6 295.6C814.4 294.2 814.3 292.9 814.1 291.5C814.0 290.2 813.8 288.9 813.7 287.5C813.6 286.2 813.4 284.9 813.3 283.5C813.2 282.2 813.1 280.9 813.0 279.5C812.8 278.2 812.7 276.8 812.6 275.5C812.5 274.2 812.4 272.8 812.3 271.5C812.2 270.2 812.1 268.8 812.1 267.5C812.0 266.1 811.9 264.8 811.8 263.5C811.7 262.1 811.7 260.8 811.6 259.5C811.6 258.1 811.5 256.8 811.4 255.5C811.4 254.1 811.3 252.8 811.3 251.4C811.2 250.1 811.2 248.8 811.2 247.4C811.1 246.1 811.1 244.8 811.1 243.4C811.0 242.1 811.0 240.8 811.0 239.4C811.0 238.1 811.0 236.7 810.9 235.4C810.9 234.1 810.9 232.7 810.9 231.4C810.9 230.1 810.9 228.7 810.9 227.4C810.9 226.0 810.9 224.7 810.9 223.4C810.9 222.0 810.9 220.7 810.9 219.4C810.9 218.0 810.9 216.7 810.9 215.4C810.9 214.0 810.9 212.7 810.9 211.3C810.9 210.0 810.9 208.7 810.9 207.3C810.9 206.0 810.9 204.7 811.0 203.3C811.0 202.0 811.0 200.6 811.0 199.3C811.0 198.0 811.0 196.6 811.0 195.3C811.0 194.0 811.1 192.6 811.1 191.3C811.1 190.0 811.1 188.6 811.1 187.3C811.1 185.9 811.1 184.6 811.1 183.3C811.1 181.9 811.2 180.6 811.2 179.3C811.2 177.9 811.2 176.6 811.2 175.2C811.3 173.9 811.3 172.6 811.3 171.2C811.3 169.9 811.4 168.6 811.4 167.2C811.5 165.9 811.5 164.6 811.6 163.2C811.6 161.9 811.7 160.5 811.8 159.2C811.9 157.9 811.9 156.5 812.0 155.2C812.1 153.9 812.2 152.5 812.4 151.2C812.5 149.8 812.6 148.5 812.7 147.2C812.9 145.8 813.0 144.5 813.2 143.2C813.4 141.8 813.6 140.5 813.8 139.2C814.0 137.8 814.2 136.5 814.4 135.1C814.6 133.8 814.9 132.5 815.1 131.1C815.4 129.8 815.7 128.5 816.0 127.1C816.3 125.8 816.6 124.5 816.9 123.1C817.2 121.8 817.6 120.4 817.9 119.1C818.3 117.8 818.6 116.4 819.0 115.1C819.4 113.8 819.8 112.4 820.2 111.1C820.6 109.7 821.0 108.4 821.4 107.1C821.8 105.7 822.2 104.4 822.7 103.1C823.1 101.7 823.6 100.4 824.0 99.1C824.5 97.7 824.9 96.4 825.4 95.0C825.9 93.7 826.4 92.4 826.9 91.0C827.3 89.7 827.8 88.4 828.3 87.0C828.8 85.7 829.3 84.3 829.8 83.0C830.4 81.7 831.1 79.7 831.4 79.0Z" fill="#4d4d4d" stroke="#000" stroke-width="2.9" stroke-linejoin="miter"/>
<line x1="858.2" y1="78.5" x2="858.2" y2="544.0" stroke="#000" stroke-width="2.7"/><rect x="853.8" y="152.7" width="8.8" height="173.2" fill="#000"/><circle cx="858.2" cy="260.2" r="6.9" fill="#fff"/>
<path d="M1007.8 148.3C1008.0 149.0 1008.8 151.0 1009.2 152.3C1009.7 153.6 1010.1 155.0 1010.6 156.3C1011.0 157.6 1011.4 159.0 1011.9 160.3C1012.3 161.6 1012.7 163.0 1013.0 164.3C1013.4 165.6 1013.8 167.0 1014.1 168.3C1014.5 169.6 1014.8 171.0 1015.2 172.3C1015.5 173.6 1015.8 175.0 1016.1 176.3C1016.4 177.6 1016.7 179.0 1017.0 180.3C1017.2 181.6 1017.5 183.0 1017.8 184.3C1018.0 185.6 1018.3 187.0 1018.5 188.3C1018.7 189.6 1018.9 191.0 1019.1 192.3C1019.3 193.6 1019.5 195.0 1019.7 196.3C1019.9 197.6 1020.1 199.0 1020.2 200.3C1020.4 201.6 1020.6 203.0 1020.7 204.3C1020.8 205.6 1021.0 207.0 1021.1 208.3C1021.2 209.6 1021.3 211.0 1021.4 212.3C1021.5 213.6 1021.6 214.9 1021.7 216.3C1021.8 217.6 1021.9 218.9 1022.0 220.3C1022.0 221.6 1022.1 222.9 1022.1 224.3C1022.2 225.6 1022.2 226.9 1022.3 228.3C1022.3 229.6 1022.3 230.9 1022.4 232.3C1022.4 233.6 1022.4 234.9 1022.4 236.3C1022.4 237.6 1022.4 238.9 1022.4 240.3C1022.4 241.6 1022.4 242.9 1022.3 244.3C1022.3 245.6 1022.3 246.9 1022.3 248.3C1022.2 249.6 1022.2 250.9 1022.1 252.3C1022.1 253.6 1022.0 254.9 1022.0 256.3C1021.9 257.6 1021.9 258.9 1021.8 260.3C1021.7 261.6 1021.7 262.9 1021.6 264.3C1021.5 265.6 1021.4 266.9 1021.3 268.3C1021.3 269.6 1021.2 270.9 1021.1 272.3C1021.0 273.6 1020.9 274.9 1020.8 276.3C1020.7 277.6 1020.6 278.9 1020.5 280.3C1020.4 281.6 1020.3 282.9 1020.1 284.3C1020.0 285.6 1019.9 286.9 1019.8 288.3C1019.7 289.6 1019.6 290.9 1019.4 292.3C1019.3 293.6 1019.2 294.9 1019.1 296.3C1018.9 297.6 1018.8 298.9 1018.7 300.3C1018.5 301.6 1018.4 302.9 1018.3 304.3C1018.2 305.6 1018.0 306.9 1017.9 308.3C1017.8 309.6 1017.6 310.9 1017.5 312.3C1017.4 313.6 1017.2 314.9 1017.1 316.3C1017.0 317.6 1016.8 318.9 1016.7 320.3C1016.6 321.6 1016.4 322.9 1016.3 324.3C1016.2 325.6 1016.0 326.9 1015.9 328.3C1015.8 329.6 1015.6 330.9 1015.5 332.3C1015.4 333.6 1015.3 334.9 1015.1 336.3C1015.0 337.6 1014.9 338.9 1014.8 340.3C1014.7 341.6 1014.5 342.9 1014.4 344.3C1014.3 345.6 1014.2 346.9 1014.1 348.2C1014.0 349.6 1013.9 350.9 1013.8 352.2C1013.7 353.6 1013.6 354.9 1013.5 356.2C1013.4 357.6 1013.3 358.9 1013.2 360.2C1013.1 361.6 1013.0 362.9 1013.0 364.2C1012.9 365.6 1012.8 366.9 1012.7 368.2C1012.7 369.6 1012.6 370.9 1012.5 372.2C1012.5 373.6 1012.4 374.9 1012.3 376.2C1012.3 377.6 1012.2 378.9 1012.2 380.2C1012.1 381.6 1012.0 382.9 1012.0 384.2C1011.9 385.6 1011.9 386.9 1011.8 388.2C1011.8 389.6 1011.7 390.9 1011.7 392.2C1011.6 393.6 1011.6 394.9 1011.5 396.2C1011.5 397.6 1011.4 398.9 1011.4 400.2C1011.3 401.6 1011.3 402.9 1011.2 404.2C1011.2 405.6 1011.1 406.9 1011.0 408.2C1011.0 409.6 1010.9 410.9 1010.9 412.2C1010.8 413.6 1010.7 414.9 1010.7 416.2C1010.6 417.6 1010.6 418.9 1010.5 420.2C1010.4 421.6 1010.3 422.9 1010.3 424.2C1010.2 425.6 1010.1 426.9 1010.0 428.2C1009.9 429.6 1009.9 430.9 1009.8 432.2C1009.7 433.6 1009.6 434.9 1009.5 436.2C1009.4 437.6 1009.3 438.9 1009.2 440.2C1009.1 441.6 1009.0 442.9 1008.9 444.2C1008.8 445.6 1008.6 446.9 1008.5 448.2C1008.4 449.6 1008.3 450.9 1008.1 452.2C1008.0 453.6 1007.9 454.9 1007.7 456.2C1007.6 457.6 1007.5 458.9 1007.3 460.2C1007.2 461.6 1007.0 462.9 1006.9 464.2C1006.7 465.6 1006.6 466.9 1006.4 468.2C1006.2 469.6 1006.1 470.9 1005.9 472.2C1005.7 473.6 1005.6 474.9 1005.4 476.2C1005.2 477.6 1005.0 478.9 1004.8 480.2C1004.7 481.5 1004.5 482.9 1004.3 484.2C1004.1 485.5 1003.9 486.9 1003.7 488.2C1003.5 489.5 1003.3 490.9 1003.1 492.2C1002.9 493.5 1002.7 494.9 1002.4 496.2C1002.2 497.5 1002.0 498.9 1001.8 500.2C1001.6 501.5 1001.4 502.9 1001.1 504.2C1000.9 505.5 1000.7 506.9 1000.5 508.2C1000.2 509.5 1000.0 510.9 999.8 512.2C999.5 513.5 999.3 514.9 999.1 516.2C998.8 517.5 998.6 518.9 998.4 520.2C998.1 521.5 997.9 522.9 997.6 524.2C997.4 525.5 997.1 526.9 996.9 528.2C996.6 529.5 996.4 530.9 996.1 532.2C995.9 533.5 995.6 534.9 995.4 536.2C995.1 537.5 994.9 538.9 994.6 540.2C994.4 541.5 994.0 543.5 993.9 544.2L958.7 544.2C958.6 543.5 958.2 541.5 958.0 540.2C957.7 538.9 957.5 537.5 957.2 536.2C957.0 534.9 956.7 533.5 956.5 532.2C956.2 530.9 956.0 529.5 955.7 528.2C955.5 526.9 955.2 525.5 955.0 524.2C954.7 522.9 954.5 521.5 954.2 520.2C954.0 518.9 953.8 517.5 953.5 516.2C953.3 514.9 953.1 513.5 952.8 512.2C952.6 510.9 952.4 509.5 952.1 508.2C951.9 506.9 951.7 505.5 951.5 504.2C951.2 502.9 951.0 501.5 950.8 500.2C950.6 498.9 950.4 497.5 950.2 496.2C949.9 494.9 949.7 493.5 949.5 492.2C949.3 490.9 949.1 489.5 948.9 488.2C948.7 486.9 948.5 485.5 948.3 484.2C948.1 482.9 947.9 481.5 947.8 480.2C947.6 478.9 947.4 477.6 947.2 476.2C947.0 474.9 946.9 473.6 946.7 472.2C946.5 470.9 946.4 469.6 946.2 468.2C946.0 466.9 945.9 465.6 945.7 464.2C945.6 462.9 945.4 461.6 945.3 460.2C945.1 458.9 945.0 457.6 944.9 456.2C944.7 454.9 944.6 453.6 944.5 452.2C944.3 450.9 944.2 449.6 944.1 448.2C944.0 446.9 943.8 445.6 943.7 444.2C943.6 442.9 943.5 441.6 943.4 440.2C943.3 438.9 943.2 437.6 943.1 436.2C943.0 434.9 942.9 433.6 942.8 432.2C942.7 430.9 942.7 429.6 942.6 428.2C942.5 426.9 942.4 425.6 942.3 424.2C942.3 422.9 942.2 421.6 942.1 420.2C942.0 418.9 942.0 417.6 941.9 416.2C941.9 414.9 941.8 413.6 941.7 412.2C941.7 410.9 941.6 409.6 941.6 408.2C941.5 406.9 941.4 405.6 941.4 404.2C941.3 402.9 941.3 401.6 941.2 400.2C941.2 398.9 941.1 397.6 941.1 396.2C941.0 394.9 941.0 393.6 940.9 392.2C940.9 390.9 940.8 389.6 940.8 388.2C940.7 386.9 940.7 385.6 940.6 384.2C940.6 382.9 940.5 381.6 940.4 380.2C940.4 378.9 940.3 377.6 940.3 376.2C940.2 374.9 940.1 373.6 940.1 372.2C940.0 370.9 939.9 369.6 939.9 368.2C939.8 366.9 939.7 365.6 939.6 364.2C939.6 362.9 939.5 361.6 939.4 360.2C939.3 358.9 939.2 357.6 939.1 356.2C939.0 354.9 938.9 353.6 938.8 352.2C938.7 350.9 938.6 349.6 938.5 348.2C938.4 346.9 938.3 345.6 938.2 344.3C938.1 342.9 937.9 341.6 937.8 340.3C937.7 338.9 937.6 337.6 937.5 336.3C937.3 334.9 937.2 333.6 937.1 332.3C937.0 330.9 936.8 329.6 936.7 328.3C936.6 326.9 936.4 325.6 936.3 324.3C936.2 322.9 936.0 321.6 935.9 320.3C935.8 318.9 935.6 317.6 935.5 316.3C935.4 314.9 935.2 313.6 935.1 312.3C935.0 310.9 934.8 309.6 934.7 308.3C934.6 306.9 934.4 305.6 934.3 304.3C934.2 302.9 934.1 301.6 933.9 300.3C933.8 298.9 933.7 297.6 933.5 296.3C933.4 294.9 933.3 293.6 933.2 292.3C933.0 290.9 932.9 289.6 932.8 288.3C932.7 286.9 932.6 285.6 932.5 284.3C932.3 282.9 932.2 281.6 932.1 280.3C932.0 278.9 931.9 277.6 931.8 276.3C931.7 274.9 931.6 273.6 931.5 272.3C931.4 270.9 931.3 269.6 931.3 268.3C931.2 266.9 931.1 265.6 931.0 264.3C930.9 262.9 930.9 261.6 930.8 260.3C930.7 258.9 930.7 257.6 930.6 256.3C930.6 254.9 930.5 253.6 930.5 252.3C930.4 250.9 930.4 249.6 930.3 248.3C930.3 246.9 930.3 245.6 930.3 244.3C930.2 242.9 930.2 241.6 930.2 240.3C930.2 238.9 930.2 237.6 930.2 236.3C930.2 234.9 930.2 233.6 930.2 232.3C930.3 230.9 930.3 229.6 930.3 228.3C930.4 226.9 930.4 225.6 930.5 224.3C930.5 222.9 930.6 221.6 930.6 220.3C930.7 218.9 930.8 217.6 930.9 216.3C931.0 214.9 931.1 213.6 931.2 212.3C931.3 211.0 931.4 209.6 931.5 208.3C931.6 207.0 931.8 205.6 931.9 204.3C932.0 203.0 932.2 201.6 932.4 200.3C932.5 199.0 932.7 197.6 932.9 196.3C933.1 195.0 933.3 193.6 933.5 192.3C933.7 191.0 933.9 189.6 934.1 188.3C934.3 187.0 934.6 185.6 934.8 184.3C935.1 183.0 935.4 181.6 935.6 180.3C935.9 179.0 936.2 177.6 936.5 176.3C936.8 175.0 937.1 173.6 937.4 172.3C937.8 171.0 938.1 169.6 938.5 168.3C938.8 167.0 939.2 165.6 939.6 164.3C939.9 163.0 940.3 161.6 940.7 160.3C941.2 159.0 941.6 157.6 942.0 156.3C942.5 155.0 942.9 153.6 943.4 152.3C943.8 151.0 944.6 149.0 944.8 148.3Z" fill="#8b008b" stroke="#000" stroke-width="2.9" stroke-linejoin="miter"/>
<line x1="976.3" y1="147.8" x2="976.3" y2="544.0" stroke="#000" stroke-width="2.7"/><rect x="971.9" y="203.8" width="8.8" height="219.5" fill="#000"/><circle cx="976.3" cy="286.2" r="6.9" fill="#fff"/>
<path d="M1111.0 92.0C1111.1 92.7 1111.4 94.7 1111.6 96.0C1111.8 97.3 1111.9 98.7 1112.1 100.0C1112.3 101.3 1112.5 102.7 1112.7 104.0C1112.9 105.3 1113.0 106.7 1113.2 108.0C1113.4 109.3 1113.6 110.7 1113.7 112.0C1113.9 113.3 1114.1 114.7 1114.3 116.0C1114.4 117.3 1114.6 118.7 1114.8 120.0C1114.9 121.3 1115.1 122.7 1115.3 124.0C1115.4 125.3 1115.6 126.7 1115.8 128.0C1115.9 129.3 1116.1 130.7 1116.3 132.0C1116.4 133.4 1116.6 134.7 1116.7 136.0C1116.9 137.4 1117.1 138.7 1117.2 140.0C1117.4 141.4 1117.5 142.7 1117.7 144.0C1117.8 145.4 1118.0 146.7 1118.1 148.0C1118.3 149.4 1118.5 150.7 1118.6 152.0C1118.8 153.4 1118.9 154.7 1119.1 156.0C1119.2 157.4 1119.4 158.7 1119.5 160.0C1119.7 161.4 1119.8 162.7 1120.0 164.0C1120.1 165.4 1120.2 166.7 1120.4 168.0C1120.5 169.4 1120.7 170.7 1120.8 172.0C1121.0 173.4 1121.1 174.7 1121.3 176.0C1121.4 177.4 1121.6 178.7 1121.7 180.0C1121.8 181.4 1122.0 182.7 1122.1 184.0C1122.3 185.4 1122.4 186.7 1122.6 188.0C1122.7 189.4 1122.9 190.7 1123.0 192.0C1123.1 193.4 1123.3 194.7 1123.4 196.0C1123.6 197.4 1123.7 198.7 1123.9 200.0C1124.0 201.4 1124.2 202.7 1124.3 204.0C1124.5 205.4 1124.6 206.7 1124.7 208.1C1124.9 209.4 1125.0 210.7 1125.2 212.1C1125.3 213.4 1125.5 214.7 1125.6 216.1C1125.8 217.4 1125.9 218.7 1126.1 220.1C1126.2 221.4 1126.4 222.7 1126.5 224.1C1126.7 225.4 1126.8 226.7 1127.0 228.1C1127.1 229.4 1127.3 230.7 1127.4 232.1C1127.6 233.4 1127.7 234.7 1127.9 236.1C1128.0 237.4 1128.2 238.7 1128.4 240.1C1128.5 241.4 1128.7 242.7 1128.8 244.1C1129.0 245.4 1129.1 246.7 1129.3 248.1C1129.5 249.4 1129.6 250.7 1129.8 252.1C1130.0 253.4 1130.1 254.7 1130.3 256.1C1130.4 257.4 1130.6 258.7 1130.8 260.1C1131.0 261.4 1131.1 262.7 1131.3 264.1C1131.5 265.4 1131.6 266.7 1131.8 268.1C1132.0 269.4 1132.1 270.7 1132.3 272.1C1132.5 273.4 1132.7 274.7 1132.8 276.1C1133.0 277.4 1133.2 278.7 1133.3 280.1C1133.5 281.4 1133.7 282.8 1133.8 284.1C1134.0 285.4 1134.2 286.8 1134.3 288.1C1134.5 289.4 1134.7 290.8 1134.8 292.1C1135.0 293.4 1135.2 294.8 1135.3 296.1C1135.5 297.4 1135.7 298.8 1135.8 300.1C1136.0 301.4 1136.1 302.8 1136.3 304.1C1136.4 305.4 1136.6 306.8 1136.7 308.1C1136.9 309.4 1137.0 310.8 1137.2 312.1C1137.3 313.4 1137.5 314.8 1137.6 316.1C1137.8 317.4 1137.9 318.8 1138.0 320.1C1138.2 321.4 1138.3 322.8 1138.4 324.1C1138.6 325.4 1138.7 326.8 1138.8 328.1C1138.9 329.4 1139.0 330.8 1139.1 332.1C1139.3 333.4 1139.4 334.8 1139.5 336.1C1139.6 337.4 1139.7 338.8 1139.8 340.1C1139.9 341.4 1140.0 342.8 1140.0 344.1C1140.1 345.4 1140.2 346.8 1140.3 348.1C1140.4 349.4 1140.4 350.8 1140.5 352.1C1140.6 353.4 1140.6 354.8 1140.7 356.1C1140.7 357.5 1140.8 358.8 1140.8 360.1C1140.9 361.5 1140.9 362.8 1140.9 364.1C1141.0 365.5 1141.0 366.8 1141.0 368.1C1141.0 369.5 1141.0 370.8 1141.0 372.1C1141.0 373.5 1141.0 374.8 1141.0 376.1C1141.0 377.5 1141.0 378.8 1141.0 380.1C1141.0 381.5 1140.9 382.8 1140.9 384.1C1140.9 385.5 1140.8 386.8 1140.8 388.1C1140.8 389.5 1140.7 390.8 1140.6 392.1C1140.6 393.5 1140.5 394.8 1140.5 396.1C1140.4 397.5 1140.3 398.8 1140.2 400.1C1140.1 401.5 1140.0 402.8 1139.9 404.1C1139.8 405.5 1139.7 406.8 1139.6 408.1C1139.5 409.5 1139.4 410.8 1139.3 412.1C1139.1 413.5 1139.0 414.8 1138.9 416.1C1138.7 417.5 1138.6 418.8 1138.4 420.1C1138.3 421.5 1138.1 422.8 1137.9 424.1C1137.8 425.5 1137.6 426.8 1137.4 428.1C1137.2 429.5 1137.0 430.8 1136.8 432.2C1136.6 433.5 1136.4 434.8 1136.2 436.2C1136.0 437.5 1135.8 438.8 1135.6 440.2C1135.3 441.5 1135.1 442.8 1134.9 444.2C1134.6 445.5 1134.4 446.8 1134.1 448.2C1133.9 449.5 1133.6 450.8 1133.4 452.2C1133.1 453.5 1132.9 454.8 1132.6 456.2C1132.3 457.5 1132.0 458.8 1131.8 460.2C1131.5 461.5 1131.2 462.8 1130.9 464.2C1130.6 465.5 1130.4 466.8 1130.1 468.2C1129.8 469.5 1129.5 470.8 1129.2 472.2C1128.9 473.5 1128.6 474.8 1128.3 476.2C1128.0 477.5 1127.7 478.8 1127.4 480.2C1127.1 481.5 1126.8 482.8 1126.5 484.2C1126.2 485.5 1125.9 486.8 1125.6 488.2C1125.2 489.5 1124.9 490.8 1124.6 492.2C1124.3 493.5 1124.0 494.8 1123.7 496.2C1123.4 497.5 1123.1 498.8 1122.8 500.2C1122.5 501.5 1122.2 502.8 1121.9 504.2C1121.6 505.5 1121.3 506.9 1121.0 508.2C1120.7 509.5 1120.4 510.9 1120.1 512.2C1119.8 513.5 1119.5 514.9 1119.2 516.2C1118.9 517.5 1118.6 518.9 1118.4 520.2C1118.1 521.5 1117.8 522.9 1117.5 524.2C1117.3 525.5 1117.0 526.9 1116.7 528.2C1116.5 529.5 1116.2 530.9 1115.9 532.2C1115.7 533.5 1115.4 534.9 1115.2 536.2C1115.0 537.5 1114.7 538.9 1114.5 540.2C1114.2 541.5 1113.9 543.5 1113.8 544.2L1075.0 544.2C1074.9 543.5 1074.6 541.5 1074.3 540.2C1074.1 538.9 1073.8 537.5 1073.6 536.2C1073.4 534.9 1073.1 533.5 1072.9 532.2C1072.6 530.9 1072.3 529.5 1072.1 528.2C1071.8 526.9 1071.5 525.5 1071.3 524.2C1071.0 522.9 1070.7 521.5 1070.4 520.2C1070.2 518.9 1069.9 517.5 1069.6 516.2C1069.3 514.9 1069.0 513.5 1068.7 512.2C1068.4 510.9 1068.1 509.5 1067.8 508.2C1067.5 506.9 1067.2 505.5 1066.9 504.2C1066.6 502.8 1066.3 501.5 1066.0 500.2C1065.7 498.8 1065.4 497.5 1065.1 496.2C1064.8 494.8 1064.5 493.5 1064.2 492.2C1063.9 490.8 1063.6 489.5 1063.2 488.2C1062.9 486.8 1062.6 485.5 1062.3 484.2C1062.0 482.8 1061.7 481.5 1061.4 480.2C1061.1 478.8 1060.8 477.5 1060.5 476.2C1060.2 474.8 1059.9 473.5 1059.6 472.2C1059.3 470.8 1059.0 469.5 1058.7 468.2C1058.4 466.8 1058.2 465.5 1057.9 464.2C1057.6 462.8 1057.3 461.5 1057.0 460.2C1056.8 458.8 1056.5 457.5 1056.2 456.2C1055.9 454.8 1055.7 453.5 1055.4 452.2C1055.2 450.8 1054.9 449.5 1054.7 448.2C1054.4 446.8 1054.2 445.5 1053.9 444.2C1053.7 442.8 1053.5 441.5 1053.2 440.2C1053.0 438.8 1052.8 437.5 1052.6 436.2C1052.4 434.8 1052.2 433.5 1052.0 432.2C1051.8 430.8 1051.6 429.5 1051.4 428.1C1051.2 426.8 1051.0 425.5 1050.9 424.1C1050.7 422.8 1050.5 421.5 1050.4 420.1C1050.2 418.8 1050.1 417.5 1049.9 416.1C1049.8 414.8 1049.7 413.5 1049.5 412.1C1049.4 410.8 1049.3 409.5 1049.2 408.1C1049.1 406.8 1049.0 405.5 1048.9 404.1C1048.8 402.8 1048.7 401.5 1048.6 400.1C1048.5 398.8 1048.4 397.5 1048.3 396.1C1048.3 394.8 1048.2 393.5 1048.2 392.1C1048.1 390.8 1048.0 389.5 1048.0 388.1C1048.0 386.8 1047.9 385.5 1047.9 384.1C1047.9 382.8 1047.8 381.5 1047.8 380.1C1047.8 378.8 1047.8 377.5 1047.8 376.1C1047.8 374.8 1047.8 373.5 1047.8 372.1C1047.8 370.8 1047.8 369.5 1047.8 368.1C1047.8 366.8 1047.8 365.5 1047.9 364.1C1047.9 362.8 1047.9 361.5 1048.0 360.1C1048.0 358.8 1048.1 357.5 1048.1 356.1C1048.2 354.8 1048.2 353.4 1048.3 352.1C1048.4 350.8 1048.4 349.4 1048.5 348.1C1048.6 346.8 1048.7 345.4 1048.8 344.1C1048.8 342.8 1048.9 341.4 1049.0 340.1C1049.1 338.8 1049.2 337.4 1049.3 336.1C1049.4 334.8 1049.5 333.4 1049.7 332.1C1049.8 330.8 1049.9 329.4 1050.0 328.1C1050.1 326.8 1050.2 325.4 1050.4 324.1C1050.5 322.8 1050.6 321.4 1050.8 320.1C1050.9 318.8 1051.0 317.4 1051.2 316.1C1051.3 314.8 1051.5 313.4 1051.6 312.1C1051.8 310.8 1051.9 309.4 1052.1 308.1C1052.2 306.8 1052.4 305.4 1052.5 304.1C1052.7 302.8 1052.8 301.4 1053.0 300.1C1053.1 298.8 1053.3 297.4 1053.5 296.1C1053.6 294.8 1053.8 293.4 1054.0 292.1C1054.1 290.8 1054.3 289.4 1054.5 288.1C1054.6 286.8 1054.8 285.4 1055.0 284.1C1055.1 282.8 1055.3 281.4 1055.5 280.1C1055.6 278.7 1055.8 277.4 1056.0 276.1C1056.1 274.7 1056.3 273.4 1056.5 272.1C1056.7 270.7 1056.8 269.4 1057.0 268.1C1057.2 266.7 1057.3 265.4 1057.5 264.1C1057.7 262.7 1057.8 261.4 1058.0 260.1C1058.2 258.7 1058.4 257.4 1058.5 256.1C1058.7 254.7 1058.8 253.4 1059.0 252.1C1059.2 250.7 1059.3 249.4 1059.5 248.1C1059.7 246.7 1059.8 245.4 1060.0 244.1C1060.1 242.7 1060.3 241.4 1060.4 240.1C1060.6 238.7 1060.8 237.4 1060.9 236.1C1061.1 234.7 1061.2 233.4 1061.4 232.1C1061.5 230.7 1061.7 229.4 1061.8 228.1C1062.0 226.7 1062.1 225.4 1062.3 224.1C1062.4 222.7 1062.6 221.4 1062.7 220.1C1062.9 218.7 1063.0 217.4 1063.2 216.1C1063.3 214.7 1063.5 213.4 1063.6 212.1C1063.8 210.7 1063.9 209.4 1064.1 208.1C1064.2 206.7 1064.3 205.4 1064.5 204.0C1064.6 202.7 1064.8 201.4 1064.9 200.0C1065.1 198.7 1065.2 197.4 1065.4 196.0C1065.5 194.7 1065.7 193.4 1065.8 192.0C1065.9 190.7 1066.1 189.4 1066.2 188.0C1066.4 186.7 1066.5 185.4 1066.7 184.0C1066.8 182.7 1067.0 181.4 1067.1 180.0C1067.2 178.7 1067.4 177.4 1067.5 176.0C1067.7 174.7 1067.8 173.4 1068.0 172.0C1068.1 170.7 1068.3 169.4 1068.4 168.0C1068.6 166.7 1068.7 165.4 1068.8 164.0C1069.0 162.7 1069.1 161.4 1069.3 160.0C1069.4 158.7 1069.6 157.4 1069.7 156.0C1069.9 154.7 1070.0 153.4 1070.2 152.0C1070.3 150.7 1070.5 149.4 1070.7 148.0C1070.8 146.7 1071.0 145.4 1071.1 144.0C1071.3 142.7 1071.4 141.4 1071.6 140.0C1071.7 138.7 1071.9 137.4 1072.1 136.0C1072.2 134.7 1072.4 133.4 1072.5 132.0C1072.7 130.7 1072.9 129.3 1073.0 128.0C1073.2 126.7 1073.4 125.3 1073.5 124.0C1073.7 122.7 1073.9 121.3 1074.0 120.0C1074.2 118.7 1074.4 117.3 1074.5 116.0C1074.7 114.7 1074.9 113.3 1075.1 112.0C1075.2 110.7 1075.4 109.3 1075.6 108.0C1075.8 106.7 1075.9 105.3 1076.1 104.0C1076.3 102.7 1076.5 101.3 1076.7 100.0C1076.9 98.7 1077.0 97.3 1077.2 96.0C1077.4 94.7 1077.7 92.7 1077.8 92.0Z" fill="#388e8e" stroke="#000" stroke-width="2.9" stroke-linejoin="miter"/>
<line x1="1094.4" y1="91.5" x2="1094.4" y2="544.0" stroke="#000" stroke-width="2.7"/><rect x="1090.0" y="229.7" width="8.8" height="210.0" fill="#000"/><circle cx="1094.4" cy="339.6" r="6.9" fill="#fff"/>
<path d="M1234.7 209.8C1234.9 210.5 1235.7 212.5 1236.2 213.8C1236.7 215.1 1237.1 216.4 1237.6 217.8C1238.0 219.1 1238.5 220.4 1238.9 221.7C1239.3 223.1 1239.7 224.4 1240.1 225.7C1240.5 227.1 1240.9 228.4 1241.2 229.7C1241.6 231.0 1241.9 232.4 1242.3 233.7C1242.6 235.0 1242.9 236.3 1243.2 237.7C1243.5 239.0 1243.8 240.3 1244.1 241.6C1244.4 243.0 1244.7 244.3 1244.9 245.6C1245.2 247.0 1245.5 248.3 1245.7 249.6C1245.9 250.9 1246.2 252.3 1246.4 253.6C1246.6 254.9 1246.8 256.2 1247.0 257.6C1247.2 258.9 1247.4 260.2 1247.6 261.6C1247.8 262.9 1248.0 264.2 1248.2 265.5C1248.3 266.9 1248.5 268.2 1248.7 269.5C1248.8 270.8 1249.0 272.2 1249.2 273.5C1249.3 274.8 1249.5 276.1 1249.6 277.5C1249.8 278.8 1249.9 280.1 1250.0 281.5C1250.2 282.8 1250.3 284.1 1250.5 285.4C1250.6 286.8 1250.7 288.1 1250.9 289.4C1251.0 290.7 1251.1 292.1 1251.2 293.4C1251.4 294.7 1251.5 296.1 1251.6 297.4C1251.8 298.7 1251.9 300.0 1252.0 301.4C1252.1 302.7 1252.3 304.0 1252.4 305.3C1252.5 306.7 1252.6 308.0 1252.7 309.3C1252.9 310.7 1253.0 312.0 1253.1 313.3C1253.2 314.6 1253.3 316.0 1253.4 317.3C1253.5 318.6 1253.7 319.9 1253.8 321.3C1253.9 322.6 1254.0 323.9 1254.1 325.2C1254.2 326.6 1254.3 327.9 1254.4 329.2C1254.5 330.6 1254.6 331.9 1254.7 333.2C1254.8 334.5 1255.0 335.9 1255.1 337.2C1255.2 338.5 1255.3 339.8 1255.4 341.2C1255.5 342.5 1255.6 343.8 1255.7 345.2C1255.8 346.5 1255.9 347.8 1256.0 349.1C1256.1 350.5 1256.1 351.8 1256.2 353.1C1256.3 354.4 1256.4 355.8 1256.5 357.1C1256.6 358.4 1256.7 359.7 1256.8 361.1C1256.9 362.4 1257.0 363.7 1257.1 365.1C1257.2 366.4 1257.3 367.7 1257.4 369.0C1257.4 370.4 1257.5 371.7 1257.6 373.0C1257.7 374.3 1257.8 375.7 1257.8 377.0C1257.9 378.3 1258.0 379.7 1258.1 381.0C1258.1 382.3 1258.2 383.6 1258.2 385.0C1258.3 386.3 1258.4 387.6 1258.4 388.9C1258.4 390.3 1258.5 391.6 1258.5 392.9C1258.5 394.3 1258.6 395.6 1258.6 396.9C1258.6 398.2 1258.6 399.6 1258.6 400.9C1258.6 402.2 1258.5 403.5 1258.5 404.9C1258.5 406.2 1258.4 407.5 1258.4 408.8C1258.3 410.2 1258.3 411.5 1258.2 412.8C1258.1 414.2 1258.0 415.5 1257.9 416.8C1257.8 418.1 1257.7 419.5 1257.6 420.8C1257.4 422.1 1257.3 423.4 1257.2 424.8C1257.0 426.1 1256.8 427.4 1256.7 428.8C1256.5 430.1 1256.3 431.4 1256.1 432.7C1255.9 434.1 1255.7 435.4 1255.5 436.7C1255.3 438.0 1255.0 439.4 1254.8 440.7C1254.5 442.0 1254.3 443.3 1254.0 444.7C1253.8 446.0 1253.5 447.3 1253.2 448.7C1253.0 450.0 1252.7 451.3 1252.4 452.6C1252.1 454.0 1251.8 455.3 1251.5 456.6C1251.1 457.9 1250.8 459.3 1250.5 460.6C1250.2 461.9 1249.8 463.3 1249.5 464.6C1249.2 465.9 1248.8 467.2 1248.5 468.6C1248.1 469.9 1247.8 471.2 1247.4 472.5C1247.0 473.9 1246.7 475.2 1246.3 476.5C1245.9 477.9 1245.6 479.2 1245.2 480.5C1244.8 481.8 1244.4 483.2 1244.1 484.5C1243.7 485.8 1243.3 487.1 1242.9 488.5C1242.6 489.8 1242.2 491.1 1241.8 492.4C1241.4 493.8 1241.1 495.1 1240.7 496.4C1240.3 497.8 1240.0 499.1 1239.6 500.4C1239.2 501.7 1238.9 503.1 1238.5 504.4C1238.2 505.7 1237.8 507.0 1237.5 508.4C1237.2 509.7 1236.8 511.0 1236.5 512.4C1236.2 513.7 1235.9 515.0 1235.6 516.3C1235.3 517.7 1235.0 519.0 1234.7 520.3C1234.4 521.6 1234.1 523.0 1233.9 524.3C1233.6 525.6 1233.3 526.9 1233.1 528.3C1232.9 529.6 1232.6 530.9 1232.4 532.3C1232.2 533.6 1232.0 534.9 1231.8 536.2C1231.6 537.6 1231.5 538.9 1231.3 540.2C1231.2 541.5 1231.0 543.5 1230.9 544.2L1194.1 544.2C1194.0 543.5 1193.8 541.5 1193.7 540.2C1193.5 538.9 1193.4 537.6 1193.2 536.2C1193.0 534.9 1192.8 533.6 1192.6 532.3C1192.4 530.9 1192.1 529.6 1191.9 528.3C1191.7 526.9 1191.4 525.6 1191.1 524.3C1190.9 523.0 1190.6 521.6 1190.3 520.3C1190.0 519.0 1189.7 517.7 1189.4 516.3C1189.1 515.0 1188.8 513.7 1188.5 512.4C1188.2 511.0 1187.8 509.7 1187.5 508.4C1187.2 507.0 1186.8 505.7 1186.5 504.4C1186.1 503.1 1185.8 501.7 1185.4 500.4C1185.0 499.1 1184.7 497.8 1184.3 496.4C1183.9 495.1 1183.6 493.8 1183.2 492.4C1182.8 491.1 1182.4 489.8 1182.1 488.5C1181.7 487.1 1181.3 485.8 1180.9 484.5C1180.6 483.2 1180.2 481.8 1179.8 480.5C1179.4 479.2 1179.1 477.9 1178.7 476.5C1178.3 475.2 1178.0 473.9 1177.6 472.5C1177.2 471.2 1176.9 469.9 1176.5 468.6C1176.2 467.2 1175.8 465.9 1175.5 464.6C1175.2 463.3 1174.8 461.9 1174.5 460.6C1174.2 459.3 1173.9 457.9 1173.5 456.6C1173.2 455.3 1172.9 454.0 1172.6 452.6C1172.3 451.3 1172.0 450.0 1171.8 448.7C1171.5 447.3 1171.2 446.0 1171.0 444.7C1170.7 443.3 1170.5 442.0 1170.2 440.7C1170.0 439.4 1169.7 438.0 1169.5 436.7C1169.3 435.4 1169.1 434.1 1168.9 432.7C1168.7 431.4 1168.5 430.1 1168.3 428.8C1168.2 427.4 1168.0 426.1 1167.8 424.8C1167.7 423.4 1167.6 422.1 1167.4 420.8C1167.3 419.5 1167.2 418.1 1167.1 416.8C1167.0 415.5 1166.9 414.2 1166.8 412.8C1166.7 411.5 1166.7 410.2 1166.6 408.8C1166.6 407.5 1166.5 406.2 1166.5 404.9C1166.5 403.5 1166.4 402.2 1166.4 400.9C1166.4 399.6 1166.4 398.2 1166.4 396.9C1166.4 395.6 1166.5 394.3 1166.5 392.9C1166.5 391.6 1166.6 390.3 1166.6 388.9C1166.6 387.6 1166.7 386.3 1166.8 385.0C1166.8 383.6 1166.9 382.3 1166.9 381.0C1167.0 379.7 1167.1 378.3 1167.2 377.0C1167.2 375.7 1167.3 374.3 1167.4 373.0C1167.5 371.7 1167.6 370.4 1167.6 369.0C1167.7 367.7 1167.8 366.4 1167.9 365.1C1168.0 363.7 1168.1 362.4 1168.2 361.1C1168.3 359.7 1168.4 358.4 1168.5 357.1C1168.6 355.8 1168.7 354.4 1168.8 353.1C1168.9 351.8 1168.9 350.5 1169.0 349.1C1169.1 347.8 1169.2 346.5 1169.3 345.2C1169.4 343.8 1169.5 342.5 1169.6 341.2C1169.7 339.8 1169.8 338.5 1169.9 337.2C1170.0 335.9 1170.2 334.5 1170.3 333.2C1170.4 331.9 1170.5 330.6 1170.6 329.2C1170.7 327.9 1170.8 326.6 1170.9 325.2C1171.0 323.9 1171.1 322.6 1171.2 321.3C1171.3 319.9 1171.5 318.6 1171.6 317.3C1171.7 316.0 1171.8 314.6 1171.9 313.3C1172.0 312.0 1172.1 310.7 1172.3 309.3C1172.4 308.0 1172.5 306.7 1172.6 305.3C1172.7 304.0 1172.9 302.7 1173.0 301.4C1173.1 300.0 1173.2 298.7 1173.4 297.4C1173.5 296.1 1173.6 294.7 1173.8 293.4C1173.9 292.1 1174.0 290.7 1174.1 289.4C1174.3 288.1 1174.4 286.8 1174.5 285.4C1174.7 284.1 1174.8 282.8 1175.0 281.5C1175.1 280.1 1175.2 278.8 1175.4 277.5C1175.5 276.1 1175.7 274.8 1175.8 273.5C1176.0 272.2 1176.2 270.8 1176.3 269.5C1176.5 268.2 1176.7 266.9 1176.8 265.5C1177.0 264.2 1177.2 262.9 1177.4 261.6C1177.6 260.2 1177.8 258.9 1178.0 257.6C1178.2 256.2 1178.4 254.9 1178.6 253.6C1178.8 252.3 1179.1 250.9 1179.3 249.6C1179.5 248.3 1179.8 247.0 1180.1 245.6C1180.3 244.3 1180.6 243.0 1180.9 241.6C1181.2 240.3 1181.5 239.0 1181.8 237.7C1182.1 236.3 1182.4 235.0 1182.7 233.7C1183.1 232.4 1183.4 231.0 1183.8 229.7C1184.1 228.4 1184.5 227.1 1184.9 225.7C1185.3 224.4 1185.7 223.1 1186.1 221.7C1186.5 220.4 1187.0 219.1 1187.4 217.8C1187.9 216.4 1188.3 215.1 1188.8 213.8C1189.3 212.5 1190.1 210.5 1190.3 209.8Z" fill="#cd8500" stroke="#000" stroke-width="2.9" stroke-linejoin="miter"/>
<line x1="1212.5" y1="209.5" x2="1212.5" y2="544.0" stroke="#000" stroke-width="2.7"/><rect x="1208.1" y="278.1" width="8.8" height="161.6" fill="#000"/><circle cx="1212.5" cy="396.5" r="6.9" fill="#fff"/>
<rect x="780.7" y="52.5" width="510.1" height="510.6" fill="none" stroke="#000" stroke-width="2.8"/>
<line x1="765.7" y1="544.4" x2="780.7" y2="544.4" stroke="#000" stroke-width="1.5"/>
<text transform="translate(751.5 553.1) scale(1.000 1)" font-family="Liberation Sans, Arial, Helvetica, sans-serif" font-size="23.6" text-anchor="end" fill="#000" stroke="#000" stroke-width="0.35">0</text>
<line x1="765.7" y1="491.8" x2="780.7" y2="491.8" stroke="#000" stroke-width="1.5"/>
<text transform="translate(751.5 500.5) scale(1.000 1)" font-family="Liberation Sans, Arial, Helvetica, sans-serif" font-size="23.6" text-anchor="end" fill="#000" stroke="#000" stroke-width="0.35">1</text>
<line x1="765.7" y1="439.2" x2="780.7" y2="439.2" stroke="#000" stroke-width="1.5"/>
<text transform="translate(751.5 447.9) scale(1.000 1)" font-family="Liberation Sans, Arial, Helvetica, sans-serif" font-size="23.6" text-anchor="end" fill="#000" stroke="#000" stroke-width="0.35">2</text>
<line x1="765.7" y1="386.7" x2="780.7" y2="386.7" stroke="#000" stroke-width="1.5"/>
<text transform="translate(751.5 395.4) scale(1.000 1)" font-family="Liberation Sans, Arial, Helvetica, sans-serif" font-size="23.6" text-anchor="end" fill="#000" stroke="#000" stroke-width="0.35">3</text>
<line x1="765.7" y1="334.1" x2="780.7" y2="334.1" stroke="#000" stroke-width="1.5"/>
<text transform="translate(751.5 342.8) scale(1.000 1)" font-family="Liberation Sans, Arial, Helvetica, sans-serif" font-size="23.6" text-anchor="end" fill="#000" stroke="#000" stroke-width="0.35">4</text>
<line x1="765.7" y1="281.5" x2="780.7" y2="281.5" stroke="#000" stroke-width="1.5"/>
<text transform="translate(751.5 290.2) scale(1.000 1)" font-family="Liberation Sans, Arial, Helvetica, sans-serif" font-size="23.6" text-anchor="end" fill="#000" stroke="#000" stroke-width="0.35">5</text>
<line x1="765.7" y1="228.9" x2="780.7" y2="228.9" stroke="#000" stroke-width="1.5"/>
<text transform="translate(751.5 237.6) scale(1.000 1)" font-family="Liberation Sans, Arial, Helvetica, sans-serif" font-size="23.6" text-anchor="end" fill="#000" stroke="#000" stroke-width="0.35">6</text>
<line x1="765.7" y1="176.3" x2="780.7" y2="176.3" stroke="#000" stroke-width="1.5"/>
<text transform="translate(751.5 185.0) scale(1.000 1)" font-family="Liberation Sans, Arial, Helvetica, sans-serif" font-size="23.6" text-anchor="end" fill="#000" stroke="#000" stroke-width="0.35">7</text>
<line x1="765.7" y1="123.8" x2="780.7" y2="123.8" stroke="#000" stroke-width="1.5"/>
<text transform="translate(751.5 132.5) scale(1.000 1)" font-family="Liberation Sans, Arial, Helvetica, sans-serif" font-size="23.6" text-anchor="end" fill="#000" stroke="#000" stroke-width="0.35">8</text>
<line x1="765.7" y1="71.2" x2="780.7" y2="71.2" stroke="#000" stroke-width="1.5"/>
<text transform="translate(751.5 79.9) scale(1.000 1)" font-family="Liberation Sans, Arial, Helvetica, sans-serif" font-size="23.6" text-anchor="end" fill="#000" stroke="#000" stroke-width="0.35">9</text>
<line x1="858.2" y1="563.1" x2="858.2" y2="577.9" stroke="#000" stroke-width="1.5"/>
<text transform="translate(857.9 614.1) scale(1.000 1)" font-family="Liberation Sans, Arial, Helvetica, sans-serif" font-size="23.6" text-anchor="middle" fill="#000" stroke="#000" stroke-width="0.35">PR-/ER-</text>
<line x1="976.3" y1="563.1" x2="976.3" y2="577.9" stroke="#000" stroke-width="1.5"/>
<text transform="translate(976.0 614.1) scale(1.000 1)" font-family="Liberation Sans, Arial, Helvetica, sans-serif" font-size="23.6" text-anchor="middle" fill="#000" stroke="#000" stroke-width="0.35">PR-/ER+</text>
<line x1="1094.4" y1="563.1" x2="1094.4" y2="577.9" stroke="#000" stroke-width="1.5"/>
<text transform="translate(1094.1 614.1) scale(1.000 1)" font-family="Liberation Sans, Arial, Helvetica, sans-serif" font-size="23.6" text-anchor="middle" fill="#000" stroke="#000" stroke-width="0.35">PR+/ER-</text>
<line x1="1212.5" y1="563.1" x2="1212.5" y2="577.9" stroke="#000" stroke-width="1.5"/>
<text transform="translate(1212.2 614.1) scale(1.000 1)" font-family="Liberation Sans, Arial, Helvetica, sans-serif" font-size="23.6" text-anchor="middle" fill="#000" stroke="#000" stroke-width="0.35">PR+/ER+</text>
<text transform="translate(689.9 307.9) rotate(-90) scale(1.012 1)" font-family="Liberation Sans, Arial, Helvetica, sans-serif" font-size="23.6" text-anchor="middle" fill="#000" stroke="#000" stroke-width="0.35">Log2(CNA count+1)</text>
<text y="25.4" font-family="Liberation Sans, Arial, Helvetica, sans-serif" font-size="35.6" fill="#000" stroke="#000" stroke-width="0.4"><tspan x="956.5" textLength="20.35" lengthAdjust="spacingAndGlyphs">P</tspan><tspan x="976.6" textLength="18.86" lengthAdjust="spacingAndGlyphs">=</tspan><tspan x="996.3 1016.5 1026.6 1046.2 1066.8">0.001</tspan></text>
<text transform="translate(669.6 41.8) scale(0.950 1)" font-family="Liberation Sans, Arial, Helvetica, sans-serif" font-size="43.7" text-anchor="start" fill="#000" font-weight="bold">b</text>
</g>
<g>
<path d="M1538.9 259.1C1538.9 259.8 1539.0 261.8 1539.0 263.1C1539.0 264.4 1539.0 265.8 1539.0 267.1C1539.0 268.4 1539.1 269.8 1539.1 271.1C1539.1 272.4 1539.1 273.8 1539.1 275.1C1539.0 276.5 1539.0 277.8 1539.0 279.1C1539.0 280.5 1539.0 281.8 1539.0 283.1C1538.9 284.5 1538.9 285.8 1538.9 287.1C1538.9 288.5 1538.8 289.8 1538.8 291.1C1538.8 292.5 1538.7 293.8 1538.7 295.1C1538.7 296.5 1538.6 297.8 1538.6 299.1C1538.5 300.5 1538.5 301.8 1538.5 303.1C1538.4 304.5 1538.4 305.8 1538.3 307.1C1538.3 308.5 1538.2 309.8 1538.2 311.2C1538.1 312.5 1538.1 313.8 1538.0 315.2C1538.0 316.5 1538.0 317.8 1537.9 319.2C1537.9 320.5 1537.8 321.8 1537.8 323.2C1537.7 324.5 1537.7 325.8 1537.6 327.2C1537.6 328.5 1537.6 329.8 1537.5 331.2C1537.5 332.5 1537.5 333.8 1537.5 335.2C1537.5 336.5 1537.5 337.8 1537.5 339.2C1537.5 340.5 1537.5 341.8 1537.5 343.2C1537.5 344.5 1537.6 345.9 1537.6 347.2C1537.7 348.5 1537.7 349.9 1537.8 351.2C1537.9 352.5 1538.0 353.9 1538.1 355.2C1538.3 356.5 1538.4 357.9 1538.6 359.2C1538.7 360.5 1538.9 361.9 1539.1 363.2C1539.3 364.5 1539.6 365.9 1539.8 367.2C1540.1 368.5 1540.4 369.9 1540.7 371.2C1541.0 372.5 1541.3 373.9 1541.7 375.2C1542.1 376.5 1542.5 377.9 1542.9 379.2C1543.4 380.6 1543.9 381.9 1544.4 383.2C1544.9 384.6 1545.4 385.9 1546.0 387.2C1546.6 388.6 1547.2 389.9 1547.9 391.2C1548.6 392.6 1549.3 393.9 1550.0 395.2C1550.8 396.6 1551.6 397.9 1552.4 399.2C1553.2 400.6 1554.0 401.9 1554.9 403.2C1555.8 404.6 1556.6 405.9 1557.6 407.2C1558.5 408.6 1559.4 409.9 1560.3 411.2C1561.3 412.6 1562.2 413.9 1563.2 415.3C1564.1 416.6 1565.1 417.9 1566.0 419.3C1567.0 420.6 1568.0 421.9 1568.9 423.3C1569.9 424.6 1570.8 425.9 1571.7 427.3C1572.6 428.6 1573.6 429.9 1574.4 431.3C1575.3 432.6 1576.2 433.9 1577.0 435.3C1577.8 436.6 1578.6 437.9 1579.3 439.3C1580.0 440.6 1580.7 441.9 1581.3 443.3C1581.8 444.6 1582.3 445.9 1582.7 447.3C1583.1 448.6 1583.4 450.0 1583.6 451.3C1583.8 452.6 1583.9 454.0 1583.9 455.3C1583.9 456.6 1583.7 458.0 1583.5 459.3C1583.3 460.6 1583.0 462.0 1582.5 463.3C1582.1 464.6 1581.6 466.0 1580.9 467.3C1580.3 468.6 1579.6 470.0 1578.7 471.3C1577.9 472.6 1576.9 474.0 1575.9 475.3C1574.9 476.6 1573.8 478.0 1572.7 479.3C1571.5 480.6 1570.3 482.0 1569.1 483.3C1567.9 484.7 1566.6 486.0 1565.3 487.3C1564.1 488.7 1562.8 490.0 1561.5 491.3C1560.3 492.7 1559.0 494.0 1557.8 495.3C1556.6 496.7 1555.5 498.0 1554.3 499.3C1553.2 500.7 1552.2 502.0 1551.2 503.3C1550.2 504.7 1549.2 506.0 1548.3 507.3C1547.4 508.7 1546.6 510.0 1545.9 511.3C1545.1 512.7 1544.2 514.7 1543.8 515.4L1529.8 515.4C1529.4 514.7 1528.5 512.7 1527.7 511.3C1527.0 510.0 1526.2 508.7 1525.3 507.3C1524.4 506.0 1523.4 504.7 1522.4 503.3C1521.4 502.0 1520.4 500.7 1519.3 499.3C1518.1 498.0 1517.0 496.7 1515.8 495.3C1514.6 494.0 1513.3 492.7 1512.1 491.3C1510.8 490.0 1509.5 488.7 1508.3 487.3C1507.0 486.0 1505.7 484.7 1504.5 483.3C1503.3 482.0 1502.1 480.6 1500.9 479.3C1499.8 478.0 1498.7 476.6 1497.7 475.3C1496.7 474.0 1495.7 472.6 1494.9 471.3C1494.0 470.0 1493.3 468.6 1492.7 467.3C1492.0 466.0 1491.5 464.6 1491.1 463.3C1490.6 462.0 1490.3 460.6 1490.1 459.3C1489.9 458.0 1489.7 456.6 1489.7 455.3C1489.7 454.0 1489.8 452.6 1490.0 451.3C1490.2 450.0 1490.5 448.6 1490.9 447.3C1491.3 445.9 1491.8 444.6 1492.3 443.3C1492.9 441.9 1493.6 440.6 1494.3 439.3C1495.0 437.9 1495.8 436.6 1496.6 435.3C1497.4 433.9 1498.3 432.6 1499.2 431.3C1500.0 429.9 1501.0 428.6 1501.9 427.3C1502.8 425.9 1503.7 424.6 1504.7 423.3C1505.6 421.9 1506.6 420.6 1507.6 419.3C1508.5 417.9 1509.5 416.6 1510.4 415.3C1511.4 413.9 1512.3 412.6 1513.3 411.2C1514.2 409.9 1515.1 408.6 1516.0 407.2C1517.0 405.9 1517.8 404.6 1518.7 403.2C1519.6 401.9 1520.4 400.6 1521.2 399.2C1522.0 397.9 1522.8 396.6 1523.6 395.2C1524.3 393.9 1525.0 392.6 1525.7 391.2C1526.4 389.9 1527.0 388.6 1527.6 387.2C1528.2 385.9 1528.7 384.6 1529.2 383.2C1529.7 381.9 1530.2 380.6 1530.7 379.2C1531.1 377.9 1531.5 376.5 1531.9 375.2C1532.3 373.9 1532.6 372.5 1532.9 371.2C1533.2 369.9 1533.5 368.5 1533.8 367.2C1534.0 365.9 1534.3 364.5 1534.5 363.2C1534.7 361.9 1534.9 360.5 1535.0 359.2C1535.2 357.9 1535.3 356.5 1535.5 355.2C1535.6 353.9 1535.7 352.5 1535.8 351.2C1535.9 349.9 1535.9 348.5 1536.0 347.2C1536.0 345.9 1536.1 344.5 1536.1 343.2C1536.1 341.8 1536.1 340.5 1536.1 339.2C1536.1 337.8 1536.1 336.5 1536.1 335.2C1536.1 333.8 1536.1 332.5 1536.1 331.2C1536.0 329.8 1536.0 328.5 1536.0 327.2C1535.9 325.8 1535.9 324.5 1535.8 323.2C1535.8 321.8 1535.7 320.5 1535.7 319.2C1535.6 317.8 1535.6 316.5 1535.6 315.2C1535.5 313.8 1535.5 312.5 1535.4 311.2C1535.4 309.8 1535.3 308.5 1535.3 307.1C1535.2 305.8 1535.2 304.5 1535.1 303.1C1535.1 301.8 1535.1 300.5 1535.0 299.1C1535.0 297.8 1534.9 296.5 1534.9 295.1C1534.9 293.8 1534.8 292.5 1534.8 291.1C1534.8 289.8 1534.7 288.5 1534.7 287.1C1534.7 285.8 1534.7 284.5 1534.6 283.1C1534.6 281.8 1534.6 280.5 1534.6 279.1C1534.6 277.8 1534.6 276.5 1534.5 275.1C1534.5 273.8 1534.5 272.4 1534.5 271.1C1534.5 269.8 1534.6 268.4 1534.6 267.1C1534.6 265.8 1534.6 264.4 1534.6 263.1C1534.6 261.8 1534.7 259.8 1534.7 259.1Z" fill="#4d4d4d" stroke="#000" stroke-width="2.9" stroke-linejoin="miter"/>
<line x1="1536.8" y1="382.3" x2="1536.8" y2="512.4" stroke="#000" stroke-width="2.7"/><rect x="1532.4" y="430.4" width="8.8" height="34.0" fill="#000"/><circle cx="1536.8" cy="456.3" r="6.9" fill="#fff"/>
<path d="M1672.5 430.6C1673.2 431.3 1675.6 433.3 1677.1 434.7C1678.6 436.0 1679.9 437.3 1681.4 438.7C1682.9 440.0 1684.4 441.3 1686.0 442.7C1687.5 444.0 1689.2 445.3 1690.8 446.7C1692.4 448.0 1694.0 449.3 1695.4 450.7C1696.8 452.0 1698.1 453.3 1699.1 454.7C1700.2 456.0 1701.1 457.4 1701.5 458.7C1702.0 460.0 1702.3 461.4 1702.0 462.7C1701.7 464.0 1700.9 465.4 1699.7 466.7C1698.6 468.0 1696.7 469.4 1694.9 470.7C1693.2 472.0 1691.1 473.4 1689.3 474.7C1687.4 476.0 1685.4 477.4 1683.7 478.7C1682.0 480.1 1680.5 481.4 1679.1 482.7C1677.7 484.1 1676.5 485.4 1675.3 486.7C1674.2 488.1 1673.1 489.4 1672.1 490.7C1671.2 492.1 1670.3 493.4 1669.5 494.7C1668.7 496.1 1668.1 497.4 1667.5 498.7C1666.9 500.1 1666.2 502.1 1666.0 502.8L1643.8 502.8C1643.6 502.1 1642.9 500.1 1642.3 498.7C1641.7 497.4 1641.1 496.1 1640.3 494.7C1639.5 493.4 1638.6 492.1 1637.7 490.7C1636.7 489.4 1635.6 488.1 1634.5 486.7C1633.3 485.4 1632.1 484.1 1630.7 482.7C1629.3 481.4 1627.8 480.1 1626.1 478.7C1624.4 477.4 1622.4 476.0 1620.5 474.7C1618.7 473.4 1616.6 472.0 1614.9 470.7C1613.1 469.4 1611.2 468.0 1610.1 466.7C1608.9 465.4 1608.1 464.0 1607.8 462.7C1607.5 461.4 1607.8 460.0 1608.3 458.7C1608.7 457.4 1609.6 456.0 1610.7 454.7C1611.7 453.3 1613.0 452.0 1614.4 450.7C1615.8 449.3 1617.4 448.0 1619.0 446.7C1620.6 445.3 1622.3 444.0 1623.8 442.7C1625.4 441.3 1626.9 440.0 1628.4 438.7C1629.9 437.3 1631.2 436.0 1632.7 434.7C1634.2 433.3 1636.6 431.3 1637.3 430.6Z" fill="#8b008b" stroke="#000" stroke-width="2.9" stroke-linejoin="miter"/>
<line x1="1654.9" y1="432.0" x2="1654.9" y2="491.8" stroke="#000" stroke-width="2.7"/><rect x="1650.5" y="454.2" width="8.8" height="16.1" fill="#000"/><circle cx="1654.9" cy="462.4" r="6.9" fill="#fff"/>
<path d="M1777.3 208.4C1777.3 209.1 1777.3 211.1 1777.3 212.4C1777.4 213.7 1777.4 215.0 1777.4 216.4C1777.4 217.7 1777.4 219.0 1777.5 220.3C1777.5 221.7 1777.5 223.0 1777.5 224.3C1777.5 225.7 1777.5 227.0 1777.5 228.3C1777.5 229.6 1777.5 231.0 1777.5 232.3C1777.5 233.6 1777.5 234.9 1777.5 236.3C1777.5 237.6 1777.5 238.9 1777.5 240.3C1777.5 241.6 1777.5 242.9 1777.5 244.2C1777.5 245.6 1777.5 246.9 1777.5 248.2C1777.5 249.5 1777.4 250.9 1777.4 252.2C1777.4 253.5 1777.4 254.9 1777.4 256.2C1777.4 257.5 1777.4 258.8 1777.4 260.2C1777.3 261.5 1777.3 262.8 1777.3 264.2C1777.3 265.5 1777.3 266.8 1777.3 268.1C1777.3 269.5 1777.3 270.8 1777.3 272.1C1777.2 273.4 1777.2 274.8 1777.2 276.1C1777.2 277.4 1777.2 278.8 1777.2 280.1C1777.2 281.4 1777.2 282.7 1777.2 284.1C1777.2 285.4 1777.2 286.7 1777.2 288.0C1777.2 289.4 1777.2 290.7 1777.2 292.0C1777.2 293.4 1777.2 294.7 1777.2 296.0C1777.2 297.3 1777.2 298.7 1777.2 300.0C1777.2 301.3 1777.2 302.6 1777.2 304.0C1777.3 305.3 1777.3 306.6 1777.3 308.0C1777.3 309.3 1777.3 310.6 1777.4 311.9C1777.4 313.3 1777.4 314.6 1777.5 315.9C1777.5 317.2 1777.5 318.6 1777.6 319.9C1777.6 321.2 1777.7 322.6 1777.7 323.9C1777.8 325.2 1777.8 326.5 1777.9 327.9C1777.9 329.2 1778.0 330.5 1778.1 331.8C1778.1 333.2 1778.2 334.5 1778.3 335.8C1778.4 337.2 1778.5 338.5 1778.6 339.8C1778.7 341.1 1778.8 342.5 1778.9 343.8C1779.0 345.1 1779.2 346.5 1779.3 347.8C1779.5 349.1 1779.7 350.4 1779.9 351.8C1780.0 353.1 1780.2 354.4 1780.5 355.7C1780.7 357.1 1780.9 358.4 1781.2 359.7C1781.5 361.1 1781.8 362.4 1782.1 363.7C1782.4 365.0 1782.7 366.4 1783.1 367.7C1783.4 369.0 1783.8 370.3 1784.2 371.7C1784.6 373.0 1785.0 374.3 1785.4 375.7C1785.9 377.0 1786.3 378.3 1786.8 379.6C1787.2 381.0 1787.7 382.3 1788.2 383.6C1788.7 384.9 1789.2 386.3 1789.8 387.6C1790.3 388.9 1790.8 390.3 1791.4 391.6C1792.0 392.9 1792.5 394.2 1793.1 395.6C1793.7 396.9 1794.3 398.2 1794.9 399.5C1795.5 400.9 1796.2 402.2 1796.8 403.5C1797.4 404.9 1798.1 406.2 1798.7 407.5C1799.3 408.8 1800.0 410.2 1800.6 411.5C1801.3 412.8 1801.9 414.1 1802.6 415.5C1803.2 416.8 1803.8 418.1 1804.5 419.5C1805.1 420.8 1805.8 422.1 1806.4 423.4C1807.0 424.8 1807.7 426.1 1808.3 427.4C1808.9 428.8 1809.5 430.1 1810.1 431.4C1810.7 432.7 1811.3 434.1 1811.8 435.4C1812.4 436.7 1812.9 438.0 1813.5 439.4C1814.0 440.7 1814.5 442.0 1815.0 443.4C1815.4 444.7 1815.9 446.0 1816.3 447.3C1816.7 448.7 1817.0 450.0 1817.3 451.3C1817.7 452.6 1818.0 454.0 1818.2 455.3C1818.5 456.6 1818.7 458.0 1818.9 459.3C1819.0 460.6 1819.1 461.9 1819.2 463.3C1819.3 464.6 1819.3 465.9 1819.3 467.2C1819.3 468.6 1819.2 469.9 1819.1 471.2C1819.0 472.6 1818.8 473.9 1818.6 475.2C1818.4 476.5 1818.2 477.9 1817.9 479.2C1817.6 480.5 1817.2 481.8 1816.9 483.2C1816.5 484.5 1816.1 485.8 1815.7 487.2C1815.3 488.5 1814.8 489.8 1814.3 491.1C1813.8 492.5 1813.3 493.8 1812.8 495.1C1812.2 496.4 1811.7 497.8 1811.1 499.1C1810.5 500.4 1809.9 501.8 1809.3 503.1C1808.7 504.4 1808.1 505.7 1807.5 507.1C1806.9 508.4 1805.9 510.4 1805.6 511.1L1740.4 511.1C1740.1 510.4 1739.1 508.4 1738.5 507.1C1737.9 505.7 1737.3 504.4 1736.7 503.1C1736.1 501.8 1735.5 500.4 1734.9 499.1C1734.3 497.8 1733.8 496.4 1733.2 495.1C1732.7 493.8 1732.2 492.5 1731.7 491.1C1731.2 489.8 1730.7 488.5 1730.3 487.2C1729.9 485.8 1729.5 484.5 1729.1 483.2C1728.8 481.8 1728.4 480.5 1728.1 479.2C1727.8 477.9 1727.6 476.5 1727.4 475.2C1727.2 473.9 1727.0 472.6 1726.9 471.2C1726.8 469.9 1726.7 468.6 1726.7 467.2C1726.7 465.9 1726.7 464.6 1726.8 463.3C1726.9 461.9 1727.0 460.6 1727.1 459.3C1727.3 458.0 1727.5 456.6 1727.8 455.3C1728.0 454.0 1728.3 452.6 1728.7 451.3C1729.0 450.0 1729.3 448.7 1729.7 447.3C1730.1 446.0 1730.6 444.7 1731.0 443.4C1731.5 442.0 1732.0 440.7 1732.5 439.4C1733.1 438.0 1733.6 436.7 1734.2 435.4C1734.7 434.1 1735.3 432.7 1735.9 431.4C1736.5 430.1 1737.1 428.8 1737.7 427.4C1738.3 426.1 1739.0 424.8 1739.6 423.4C1740.2 422.1 1740.9 420.8 1741.5 419.5C1742.2 418.1 1742.8 416.8 1743.4 415.5C1744.1 414.1 1744.7 412.8 1745.4 411.5C1746.0 410.2 1746.7 408.8 1747.3 407.5C1747.9 406.2 1748.6 404.9 1749.2 403.5C1749.8 402.2 1750.5 400.9 1751.1 399.5C1751.7 398.2 1752.3 396.9 1752.9 395.6C1753.5 394.2 1754.0 392.9 1754.6 391.6C1755.2 390.3 1755.7 388.9 1756.2 387.6C1756.8 386.3 1757.3 384.9 1757.8 383.6C1758.3 382.3 1758.8 381.0 1759.2 379.6C1759.7 378.3 1760.1 377.0 1760.6 375.7C1761.0 374.3 1761.4 373.0 1761.8 371.7C1762.2 370.3 1762.6 369.0 1762.9 367.7C1763.3 366.4 1763.6 365.0 1763.9 363.7C1764.2 362.4 1764.5 361.1 1764.8 359.7C1765.1 358.4 1765.3 357.1 1765.5 355.7C1765.8 354.4 1766.0 353.1 1766.1 351.8C1766.3 350.4 1766.5 349.1 1766.7 347.8C1766.8 346.5 1767.0 345.1 1767.1 343.8C1767.2 342.5 1767.3 341.1 1767.4 339.8C1767.5 338.5 1767.6 337.2 1767.7 335.8C1767.8 334.5 1767.9 333.2 1767.9 331.8C1768.0 330.5 1768.1 329.2 1768.1 327.9C1768.2 326.5 1768.2 325.2 1768.3 323.9C1768.3 322.6 1768.4 321.2 1768.4 319.9C1768.5 318.6 1768.5 317.2 1768.5 315.9C1768.6 314.6 1768.6 313.3 1768.6 311.9C1768.7 310.6 1768.7 309.3 1768.7 308.0C1768.7 306.6 1768.7 305.3 1768.8 304.0C1768.8 302.6 1768.8 301.3 1768.8 300.0C1768.8 298.7 1768.8 297.3 1768.8 296.0C1768.8 294.7 1768.8 293.4 1768.8 292.0C1768.8 290.7 1768.8 289.4 1768.8 288.0C1768.8 286.7 1768.8 285.4 1768.8 284.1C1768.8 282.7 1768.8 281.4 1768.8 280.1C1768.8 278.8 1768.8 277.4 1768.8 276.1C1768.8 274.8 1768.8 273.4 1768.7 272.1C1768.7 270.8 1768.7 269.5 1768.7 268.1C1768.7 266.8 1768.7 265.5 1768.7 264.2C1768.7 262.8 1768.7 261.5 1768.6 260.2C1768.6 258.8 1768.6 257.5 1768.6 256.2C1768.6 254.9 1768.6 253.5 1768.6 252.2C1768.6 250.9 1768.5 249.5 1768.5 248.2C1768.5 246.9 1768.5 245.6 1768.5 244.2C1768.5 242.9 1768.5 241.6 1768.5 240.3C1768.5 238.9 1768.5 237.6 1768.5 236.3C1768.5 234.9 1768.5 233.6 1768.5 232.3C1768.5 231.0 1768.5 229.6 1768.5 228.3C1768.5 227.0 1768.5 225.7 1768.5 224.3C1768.5 223.0 1768.5 221.7 1768.5 220.3C1768.6 219.0 1768.6 217.7 1768.6 216.4C1768.6 215.0 1768.6 213.7 1768.7 212.4C1768.7 211.1 1768.7 209.1 1768.7 208.4Z" fill="#388e8e" stroke="#000" stroke-width="2.9" stroke-linejoin="miter"/>
<line x1="1773.0" y1="407.4" x2="1773.0" y2="511.7" stroke="#000" stroke-width="2.7"/><rect x="1768.6" y="448.3" width="8.8" height="28.6" fill="#000"/><circle cx="1773.0" cy="464.5" r="6.9" fill="#fff"/>
<path d="M1893.8 105.0C1893.8 105.7 1893.8 107.7 1893.9 109.0C1893.9 110.3 1894.0 111.7 1894.0 113.0C1894.0 114.4 1894.0 115.7 1894.0 117.0C1894.1 118.4 1894.1 119.7 1894.1 121.0C1894.1 122.4 1894.1 123.7 1894.1 125.0C1894.1 126.4 1894.1 127.7 1894.1 129.0C1894.1 130.4 1894.1 131.7 1894.0 133.1C1894.0 134.4 1894.0 135.7 1894.0 137.1C1894.0 138.4 1894.0 139.7 1893.9 141.1C1893.9 142.4 1893.9 143.7 1893.9 145.1C1893.9 146.4 1893.8 147.8 1893.8 149.1C1893.8 150.4 1893.8 151.8 1893.8 153.1C1893.7 154.4 1893.7 155.8 1893.7 157.1C1893.7 158.4 1893.7 159.8 1893.6 161.1C1893.6 162.5 1893.6 163.8 1893.6 165.1C1893.6 166.5 1893.6 167.8 1893.6 169.1C1893.6 170.5 1893.6 171.8 1893.6 173.1C1893.6 174.5 1893.6 175.8 1893.6 177.1C1893.6 178.5 1893.6 179.8 1893.6 181.2C1893.7 182.5 1893.7 183.8 1893.7 185.2C1893.7 186.5 1893.8 187.8 1893.8 189.2C1893.9 190.5 1893.9 191.8 1894.0 193.2C1894.0 194.5 1894.1 195.9 1894.1 197.2C1894.2 198.5 1894.3 199.9 1894.3 201.2C1894.4 202.5 1894.5 203.9 1894.6 205.2C1894.7 206.5 1894.8 207.9 1894.8 209.2C1894.9 210.6 1895.0 211.9 1895.1 213.2C1895.2 214.6 1895.3 215.9 1895.4 217.2C1895.5 218.6 1895.6 219.9 1895.7 221.2C1895.8 222.6 1895.9 223.9 1896.0 225.2C1896.1 226.6 1896.2 227.9 1896.3 229.3C1896.4 230.6 1896.5 231.9 1896.6 233.3C1896.6 234.6 1896.7 235.9 1896.8 237.3C1896.9 238.6 1897.0 239.9 1897.1 241.3C1897.2 242.6 1897.2 244.0 1897.3 245.3C1897.4 246.6 1897.5 248.0 1897.5 249.3C1897.6 250.6 1897.7 252.0 1897.7 253.3C1897.8 254.6 1897.8 256.0 1897.9 257.3C1897.9 258.6 1897.9 260.0 1898.0 261.3C1898.0 262.7 1898.0 264.0 1898.1 265.3C1898.1 266.7 1898.1 268.0 1898.1 269.3C1898.1 270.7 1898.2 272.0 1898.2 273.3C1898.2 274.7 1898.2 276.0 1898.2 277.4C1898.2 278.7 1898.2 280.0 1898.2 281.4C1898.2 282.7 1898.2 284.0 1898.2 285.4C1898.2 286.7 1898.2 288.0 1898.2 289.4C1898.2 290.7 1898.3 292.1 1898.3 293.4C1898.3 294.7 1898.3 296.1 1898.3 297.4C1898.3 298.7 1898.3 300.1 1898.3 301.4C1898.4 302.7 1898.4 304.1 1898.4 305.4C1898.4 306.7 1898.5 308.1 1898.5 309.4C1898.5 310.8 1898.6 312.1 1898.6 313.4C1898.7 314.8 1898.7 316.1 1898.8 317.4C1898.8 318.8 1898.9 320.1 1899.0 321.4C1899.1 322.8 1899.1 324.1 1899.2 325.5C1899.3 326.8 1899.4 328.1 1899.5 329.5C1899.6 330.8 1899.7 332.1 1899.9 333.5C1900.0 334.8 1900.1 336.1 1900.3 337.5C1900.4 338.8 1900.6 340.2 1900.8 341.5C1900.9 342.8 1901.1 344.2 1901.3 345.5C1901.5 346.8 1901.7 348.2 1901.9 349.5C1902.2 350.8 1902.4 352.2 1902.7 353.5C1902.9 354.8 1903.2 356.2 1903.5 357.5C1903.8 358.9 1904.1 360.2 1904.4 361.5C1904.8 362.9 1905.1 364.2 1905.5 365.5C1905.8 366.9 1906.2 368.2 1906.6 369.5C1907.0 370.9 1907.5 372.2 1907.9 373.6C1908.4 374.9 1908.8 376.2 1909.3 377.6C1909.8 378.9 1910.3 380.2 1910.8 381.6C1911.3 382.9 1911.9 384.2 1912.4 385.6C1913.0 386.9 1913.5 388.2 1914.1 389.6C1914.7 390.9 1915.3 392.3 1915.9 393.6C1916.5 394.9 1917.2 396.3 1917.8 397.6C1918.4 398.9 1919.1 400.3 1919.7 401.6C1920.4 402.9 1921.0 404.3 1921.7 405.6C1922.3 407.0 1922.9 408.3 1923.6 409.6C1924.2 411.0 1924.9 412.3 1925.5 413.6C1926.1 415.0 1926.7 416.3 1927.4 417.6C1928.0 419.0 1928.6 420.3 1929.1 421.7C1929.7 423.0 1930.3 424.3 1930.8 425.7C1931.3 427.0 1931.9 428.3 1932.4 429.7C1932.8 431.0 1933.3 432.3 1933.8 433.7C1934.2 435.0 1934.6 436.3 1935.0 437.7C1935.4 439.0 1935.7 440.4 1936.0 441.7C1936.3 443.0 1936.6 444.4 1936.8 445.7C1937.0 447.0 1937.2 448.4 1937.3 449.7C1937.5 451.0 1937.6 452.4 1937.6 453.7C1937.7 455.1 1937.7 456.4 1937.7 457.7C1937.7 459.1 1937.6 460.4 1937.5 461.7C1937.4 463.1 1937.3 464.4 1937.1 465.7C1936.9 467.1 1936.7 468.4 1936.5 469.8C1936.2 471.1 1935.9 472.4 1935.6 473.8C1935.3 475.1 1934.9 476.4 1934.5 477.8C1934.1 479.1 1933.7 480.4 1933.3 481.8C1932.8 483.1 1932.3 484.4 1931.8 485.8C1931.3 487.1 1930.8 488.5 1930.2 489.8C1929.6 491.1 1929.1 492.5 1928.5 493.8C1927.9 495.1 1927.3 496.5 1926.7 497.8C1926.0 499.1 1925.4 500.5 1924.8 501.8C1924.2 503.2 1923.5 504.5 1922.9 505.8C1922.2 507.2 1921.6 508.5 1921.0 509.8C1920.3 511.2 1919.7 512.5 1919.1 513.8C1918.5 515.2 1917.6 517.2 1917.3 517.9L1864.9 517.9C1864.6 517.2 1863.7 515.2 1863.1 513.8C1862.5 512.5 1861.9 511.2 1861.2 509.8C1860.6 508.5 1860.0 507.2 1859.3 505.8C1858.7 504.5 1858.0 503.2 1857.4 501.8C1856.8 500.5 1856.2 499.1 1855.5 497.8C1854.9 496.5 1854.3 495.1 1853.7 493.8C1853.1 492.5 1852.6 491.1 1852.0 489.8C1851.4 488.5 1850.9 487.1 1850.4 485.8C1849.9 484.4 1849.4 483.1 1848.9 481.8C1848.5 480.4 1848.1 479.1 1847.7 477.8C1847.3 476.4 1846.9 475.1 1846.6 473.8C1846.3 472.4 1846.0 471.1 1845.7 469.8C1845.5 468.4 1845.3 467.1 1845.1 465.7C1844.9 464.4 1844.8 463.1 1844.7 461.7C1844.6 460.4 1844.5 459.1 1844.5 457.7C1844.5 456.4 1844.5 455.1 1844.6 453.7C1844.6 452.4 1844.7 451.0 1844.9 449.7C1845.0 448.4 1845.2 447.0 1845.4 445.7C1845.6 444.4 1845.9 443.0 1846.2 441.7C1846.5 440.4 1846.8 439.0 1847.2 437.7C1847.6 436.3 1848.0 435.0 1848.4 433.7C1848.9 432.3 1849.4 431.0 1849.8 429.7C1850.3 428.3 1850.9 427.0 1851.4 425.7C1851.9 424.3 1852.5 423.0 1853.1 421.7C1853.6 420.3 1854.2 419.0 1854.8 417.6C1855.5 416.3 1856.1 415.0 1856.7 413.6C1857.3 412.3 1858.0 411.0 1858.6 409.6C1859.3 408.3 1859.9 407.0 1860.5 405.6C1861.2 404.3 1861.8 402.9 1862.5 401.6C1863.1 400.3 1863.8 398.9 1864.4 397.6C1865.0 396.3 1865.7 394.9 1866.3 393.6C1866.9 392.3 1867.5 390.9 1868.1 389.6C1868.7 388.2 1869.2 386.9 1869.8 385.6C1870.3 384.2 1870.9 382.9 1871.4 381.6C1871.9 380.2 1872.4 378.9 1872.9 377.6C1873.4 376.2 1873.8 374.9 1874.3 373.6C1874.7 372.2 1875.2 370.9 1875.6 369.5C1876.0 368.2 1876.4 366.9 1876.7 365.5C1877.1 364.2 1877.4 362.9 1877.8 361.5C1878.1 360.2 1878.4 358.9 1878.7 357.5C1879.0 356.2 1879.3 354.8 1879.5 353.5C1879.8 352.2 1880.0 350.8 1880.3 349.5C1880.5 348.2 1880.7 346.8 1880.9 345.5C1881.1 344.2 1881.3 342.8 1881.4 341.5C1881.6 340.2 1881.8 338.8 1881.9 337.5C1882.1 336.1 1882.2 334.8 1882.3 333.5C1882.5 332.1 1882.6 330.8 1882.7 329.5C1882.8 328.1 1882.9 326.8 1883.0 325.5C1883.1 324.1 1883.1 322.8 1883.2 321.4C1883.3 320.1 1883.4 318.8 1883.4 317.4C1883.5 316.1 1883.5 314.8 1883.6 313.4C1883.6 312.1 1883.7 310.8 1883.7 309.4C1883.7 308.1 1883.8 306.7 1883.8 305.4C1883.8 304.1 1883.8 302.7 1883.9 301.4C1883.9 300.1 1883.9 298.7 1883.9 297.4C1883.9 296.1 1883.9 294.7 1883.9 293.4C1883.9 292.1 1884.0 290.7 1884.0 289.4C1884.0 288.0 1884.0 286.7 1884.0 285.4C1884.0 284.0 1884.0 282.7 1884.0 281.4C1884.0 280.0 1884.0 278.7 1884.0 277.4C1884.0 276.0 1884.0 274.7 1884.0 273.3C1884.0 272.0 1884.1 270.7 1884.1 269.3C1884.1 268.0 1884.1 266.7 1884.1 265.3C1884.2 264.0 1884.2 262.7 1884.2 261.3C1884.3 260.0 1884.3 258.6 1884.3 257.3C1884.4 256.0 1884.4 254.6 1884.5 253.3C1884.5 252.0 1884.6 250.6 1884.7 249.3C1884.7 248.0 1884.8 246.6 1884.9 245.3C1885.0 244.0 1885.0 242.6 1885.1 241.3C1885.2 239.9 1885.3 238.6 1885.4 237.3C1885.5 235.9 1885.6 234.6 1885.6 233.3C1885.7 231.9 1885.8 230.6 1885.9 229.3C1886.0 227.9 1886.1 226.6 1886.2 225.2C1886.3 223.9 1886.4 222.6 1886.5 221.2C1886.6 219.9 1886.7 218.6 1886.8 217.2C1886.9 215.9 1887.0 214.6 1887.1 213.2C1887.2 211.9 1887.3 210.6 1887.4 209.2C1887.4 207.9 1887.5 206.5 1887.6 205.2C1887.7 203.9 1887.8 202.5 1887.9 201.2C1887.9 199.9 1888.0 198.5 1888.1 197.2C1888.1 195.9 1888.2 194.5 1888.2 193.2C1888.3 191.8 1888.3 190.5 1888.4 189.2C1888.4 187.8 1888.5 186.5 1888.5 185.2C1888.5 183.8 1888.5 182.5 1888.6 181.2C1888.6 179.8 1888.6 178.5 1888.6 177.1C1888.6 175.8 1888.6 174.5 1888.6 173.1C1888.6 171.8 1888.6 170.5 1888.6 169.1C1888.6 167.8 1888.6 166.5 1888.6 165.1C1888.6 163.8 1888.6 162.5 1888.6 161.1C1888.5 159.8 1888.5 158.4 1888.5 157.1C1888.5 155.8 1888.5 154.4 1888.4 153.1C1888.4 151.8 1888.4 150.4 1888.4 149.1C1888.4 147.8 1888.3 146.4 1888.3 145.1C1888.3 143.7 1888.3 142.4 1888.3 141.1C1888.2 139.7 1888.2 138.4 1888.2 137.1C1888.2 135.7 1888.2 134.4 1888.2 133.1C1888.1 131.7 1888.1 130.4 1888.1 129.0C1888.1 127.7 1888.1 126.4 1888.1 125.0C1888.1 123.7 1888.1 122.4 1888.1 121.0C1888.1 119.7 1888.1 118.4 1888.2 117.0C1888.2 115.7 1888.2 114.4 1888.2 113.0C1888.2 111.7 1888.3 110.3 1888.3 109.0C1888.4 107.7 1888.4 105.7 1888.4 105.0Z" fill="#cd8500" stroke="#000" stroke-width="2.9" stroke-linejoin="miter"/>
<line x1="1891.1" y1="380.5" x2="1891.1" y2="518.2" stroke="#000" stroke-width="2.7"/><rect x="1886.7" y="432.0" width="8.8" height="35.8" fill="#000"/><circle cx="1891.1" cy="454.8" r="6.9" fill="#fff"/>
<rect x="1459.5" y="52.5" width="509.7" height="510.6" fill="none" stroke="#000" stroke-width="2.8"/>
<line x1="1444.5" y1="544.4" x2="1459.5" y2="544.4" stroke="#000" stroke-width="1.5"/>
<text transform="translate(1430.3 553.1) scale(1.000 1)" font-family="Liberation Sans, Arial, Helvetica, sans-serif" font-size="23.6" text-anchor="end" fill="#000" stroke="#000" stroke-width="0.35">5</text>
<line x1="1444.5" y1="476.8" x2="1459.5" y2="476.8" stroke="#000" stroke-width="1.5"/>
<text transform="translate(1430.3 485.5) scale(1.000 1)" font-family="Liberation Sans, Arial, Helvetica, sans-serif" font-size="23.6" text-anchor="end" fill="#000" stroke="#000" stroke-width="0.35">6</text>
<line x1="1444.5" y1="409.2" x2="1459.5" y2="409.2" stroke="#000" stroke-width="1.5"/>
<text transform="translate(1430.3 417.9) scale(1.000 1)" font-family="Liberation Sans, Arial, Helvetica, sans-serif" font-size="23.6" text-anchor="end" fill="#000" stroke="#000" stroke-width="0.35">7</text>
<line x1="1444.5" y1="341.6" x2="1459.5" y2="341.6" stroke="#000" stroke-width="1.5"/>
<text transform="translate(1430.3 350.3) scale(1.000 1)" font-family="Liberation Sans, Arial, Helvetica, sans-serif" font-size="23.6" text-anchor="end" fill="#000" stroke="#000" stroke-width="0.35">8</text>
<line x1="1444.5" y1="274.0" x2="1459.5" y2="274.0" stroke="#000" stroke-width="1.5"/>
<text transform="translate(1430.3 282.7) scale(1.000 1)" font-family="Liberation Sans, Arial, Helvetica, sans-serif" font-size="23.6" text-anchor="end" fill="#000" stroke="#000" stroke-width="0.35">9</text>
<line x1="1444.5" y1="206.4" x2="1459.5" y2="206.4" stroke="#000" stroke-width="1.5"/>
<text transform="translate(1430.3 215.1) scale(1.000 1)" font-family="Liberation Sans, Arial, Helvetica, sans-serif" font-size="23.6" text-anchor="end" fill="#000" stroke="#000" stroke-width="0.35">10</text>
<line x1="1444.5" y1="138.8" x2="1459.5" y2="138.8" stroke="#000" stroke-width="1.5"/>
<text transform="translate(1430.3 147.5) scale(1.000 1)" font-family="Liberation Sans, Arial, Helvetica, sans-serif" font-size="23.6" text-anchor="end" fill="#000" stroke="#000" stroke-width="0.35">11</text>
<line x1="1444.5" y1="71.2" x2="1459.5" y2="71.2" stroke="#000" stroke-width="1.5"/>
<text transform="translate(1430.3 79.9) scale(1.000 1)" font-family="Liberation Sans, Arial, Helvetica, sans-serif" font-size="23.6" text-anchor="end" fill="#000" stroke="#000" stroke-width="0.35">12</text>
<line x1="1536.8" y1="563.1" x2="1536.8" y2="577.9" stroke="#000" stroke-width="1.5"/>
<text transform="translate(1536.5 614.1) scale(1.000 1)" font-family="Liberation Sans, Arial, Helvetica, sans-serif" font-size="23.6" text-anchor="middle" fill="#000" stroke="#000" stroke-width="0.35">PR-/ER-</text>
<line x1="1654.9" y1="563.1" x2="1654.9" y2="577.9" stroke="#000" stroke-width="1.5"/>
<text transform="translate(1654.6 614.1) scale(1.000 1)" font-family="Liberation Sans, Arial, Helvetica, sans-serif" font-size="23.6" text-anchor="middle" fill="#000" stroke="#000" stroke-width="0.35">PR-/ER+</text>
<line x1="1773.0" y1="563.1" x2="1773.0" y2="577.9" stroke="#000" stroke-width="1.5"/>
<text transform="translate(1772.7 614.1) scale(1.000 1)" font-family="Liberation Sans, Arial, Helvetica, sans-serif" font-size="23.6" text-anchor="middle" fill="#000" stroke="#000" stroke-width="0.35">PR+/ER-</text>
<line x1="1891.1" y1="563.1" x2="1891.1" y2="577.9" stroke="#000" stroke-width="1.5"/>
<text transform="translate(1890.8 614.1) scale(1.000 1)" font-family="Liberation Sans, Arial, Helvetica, sans-serif" font-size="23.6" text-anchor="middle" fill="#000" stroke="#000" stroke-width="0.35">PR+/ER+</text>
<text transform="translate(1368.7 307.9) rotate(-90) scale(1.012 1)" font-family="Liberation Sans, Arial, Helvetica, sans-serif" font-size="23.6" text-anchor="middle" fill="#000" stroke="#000" stroke-width="0.35">Log2(TMB)</text>
<text y="25.4" font-family="Liberation Sans, Arial, Helvetica, sans-serif" font-size="35.6" fill="#000" stroke="#000" stroke-width="0.4"><tspan x="1655.4" textLength="20.35" lengthAdjust="spacingAndGlyphs">P</tspan><tspan x="1675.3" textLength="19.46" lengthAdjust="spacingAndGlyphs">&gt;</tspan><tspan x="1694.7 1714.8 1724.8">0.2</tspan></text>
<text transform="translate(1347.8 42.2) scale(0.840 1)" font-family="Liberation Sans, Arial, Helvetica, sans-serif" font-size="43.7" text-anchor="start" fill="#000" font-weight="bold">c</text>
</g>
</svg>
</body></html>
